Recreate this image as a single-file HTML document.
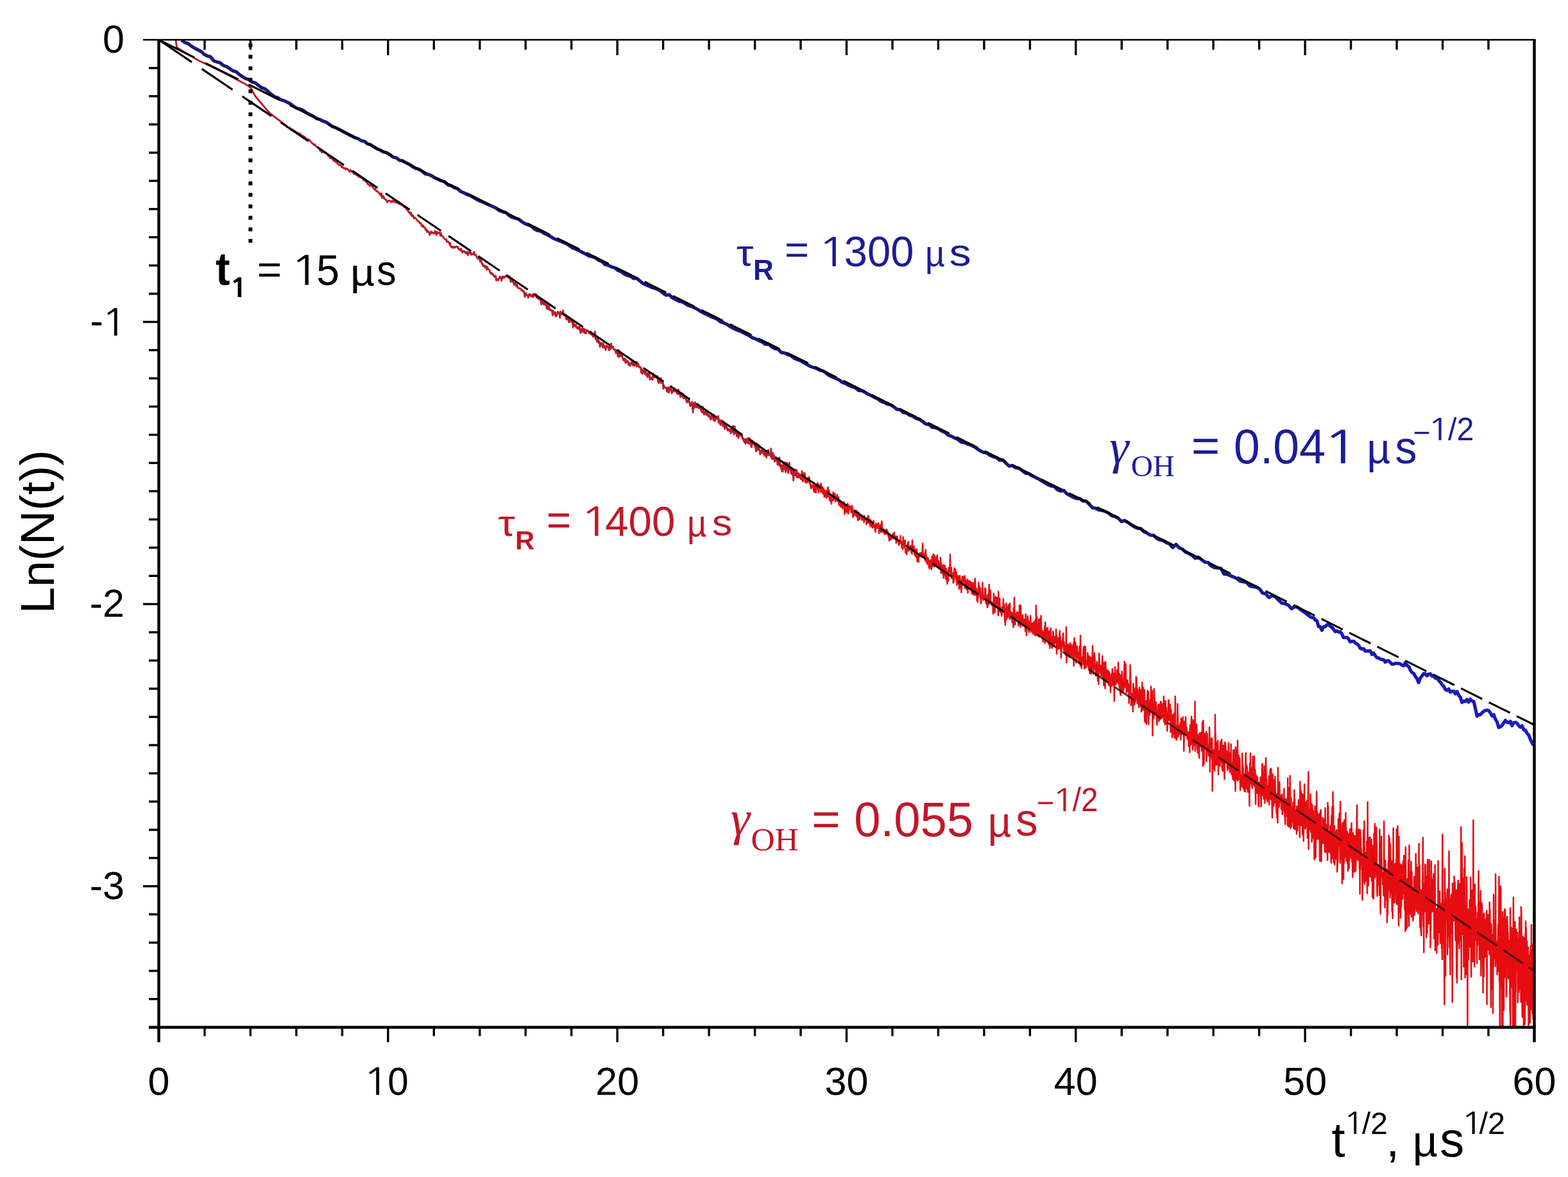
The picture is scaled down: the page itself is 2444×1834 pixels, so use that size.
<!DOCTYPE html>
<html><head><meta charset="utf-8"><title>Ln(N(t)) vs t^1/2</title>
<style>html,body{margin:0;padding:0;background:#fff;overflow:hidden}svg{display:block}</style>
</head><body>
<svg xmlns="http://www.w3.org/2000/svg" width="2444" height="1834" viewBox="0 0 2444 1834">
<rect width="2444" height="1834" fill="#fff"/>
<defs><linearGradient id="bg" gradientUnits="userSpaceOnUse" x1="247" y1="0" x2="2392" y2="0"><stop offset="0" stop-color="#1a1a78"/><stop offset="0.7" stop-color="#15157a"/><stop offset="0.82" stop-color="#1818a8"/><stop offset="1" stop-color="#1c1cc4"/></linearGradient><clipPath id="pc"><rect x="247.5" y="62.0" width="2144.0" height="1538.7"/></clipPath></defs>
<g clip-path="url(#pc)">
<path d="M274.0,62.5 L275.5,74.0 L290.0,83.0 L310.0,94.5 L330.0,104.0 L355.0,116.5 L372.0,125.5 L385.0,132.5 L391.0,137.0 L393.5,142.0 L398.0,150.0 L420.0,176.0 L445.0,195.0 L445.0,194.8 L446.5,196.8 L448.1,198.5 L449.6,198.4 L451.1,198.7 L452.6,200.6 L454.2,202.9 L455.7,201.5 L457.2,204.7 L458.7,203.3 L460.2,205.1 L461.7,206.6 L463.1,206.4 L464.6,207.4 L466.1,208.5 L467.6,207.9 L469.0,210.1 L470.5,211.1 L472.0,211.6 L473.4,213.0 L474.9,213.4 L476.3,215.2 L477.8,216.3 L479.2,216.6 L480.6,218.1 L482.1,217.7 L483.5,220.0 L484.9,221.3 L486.3,222.8 L487.8,224.0 L489.2,225.7 L490.6,225.1 L492.0,227.1 L493.4,228.7 L494.8,229.6 L496.2,230.2 L497.6,231.2 L499.0,234.9 L500.3,233.6 L501.7,237.8 L503.1,236.9 L504.5,236.8 L505.8,237.8 L507.2,238.2 L508.6,239.4 L509.9,240.5 L511.3,242.6 L512.6,243.3 L514.0,245.6 L515.3,246.5 L516.7,246.9 L518.0,246.7 L519.4,250.0 L520.7,250.4 L522.0,251.3 L523.3,252.7 L524.7,252.2 L526.0,255.2 L527.3,255.6 L528.6,257.6 L529.9,257.0 L531.2,257.7 L532.5,260.5 L533.8,259.6 L535.1,261.8 L536.4,262.3 L537.7,261.9 L539.0,264.1 L540.3,262.4 L541.6,263.3 L542.9,265.0 L544.1,265.7 L545.4,268.0 L546.7,264.9 L548.0,267.2 L549.2,267.7 L550.5,268.8 L551.8,271.0 L553.0,270.7 L554.3,271.0 L555.5,272.5 L556.8,271.5 L558.0,274.3 L559.3,275.6 L560.5,275.3 L561.8,276.3 L563.0,275.1 L564.2,277.8 L565.5,276.8 L566.7,281.2 L567.9,280.6 L569.2,281.5 L570.4,283.0 L571.6,283.9 L572.8,286.2 L574.0,287.5 L575.3,287.7 L576.5,289.9 L577.7,288.4 L578.9,288.3 L580.1,291.0 L581.3,291.5 L582.5,293.0 L583.7,295.4 L584.9,294.1 L586.1,296.9 L587.3,298.2 L588.4,298.2 L589.6,299.5 L590.8,301.4 L592.0,301.5 L593.2,304.5 L594.4,301.3 L595.5,308.4 L596.7,305.4 L597.9,306.6 L599.0,309.7 L600.2,310.2 L601.4,311.0 L602.5,312.6 L603.7,315.0 L604.8,312.8 L606.0,312.6 L607.2,313.1 L608.3,312.9 L609.5,314.7 L610.6,314.7 L611.7,312.6 L612.9,314.5 L614.0,312.6 L615.2,313.0 L616.3,315.7 L617.4,314.2 L618.6,315.6 L619.7,316.4 L620.8,314.6 L622.0,317.6 L623.1,316.4 L624.2,317.4 L625.3,319.3 L626.5,319.3 L627.6,320.0 L628.7,320.9 L629.8,322.3 L630.9,323.1 L632.0,324.0 L633.1,324.8 L634.2,327.0 L635.3,327.7 L636.5,329.7 L637.6,331.2 L638.7,330.8 L639.8,333.9 L640.8,331.6 L641.9,336.6 L643.0,335.5 L644.1,336.8 L645.2,340.3 L646.3,338.8 L647.4,340.1 L648.5,340.7 L649.6,342.6 L650.6,344.0 L651.7,345.0 L652.8,345.0 L653.9,347.2 L654.9,348.1 L656.0,347.8 L657.1,351.2 L658.1,353.1 L659.2,351.0 L660.3,354.1 L661.3,353.8 L662.4,355.0 L663.5,358.5 L664.5,357.6 L665.6,361.4 L666.6,359.7 L667.7,360.9 L668.7,362.4 L669.8,366.2 L670.8,362.3 L671.9,360.7 L672.9,363.2 L674.0,362.1 L675.0,362.3 L676.1,364.0 L677.1,363.6 L678.2,360.0 L679.2,363.2 L680.2,366.2 L681.3,361.1 L682.3,363.7 L683.3,363.4 L684.4,362.2 L685.4,362.4 L686.4,367.2 L687.4,363.3 L688.5,367.7 L689.5,367.6 L690.5,369.2 L691.5,370.4 L692.5,371.2 L693.6,373.1 L694.6,372.7 L695.6,373.3 L696.6,376.9 L697.6,376.1 L698.6,376.5 L699.6,378.1 L700.6,380.2 L701.6,378.9 L702.6,383.8 L703.6,385.3 L704.7,385.6 L705.7,384.3 L706.7,386.2 L707.6,384.6 L708.6,384.6 L709.6,385.7 L710.6,384.3 L711.6,384.4 L712.6,384.5 L713.6,384.7 L714.6,388.4 L715.6,387.6 L716.6,388.8 L717.6,390.0 L718.5,387.6 L719.5,389.7 L720.5,393.7 L721.5,391.4 L722.5,391.1 L723.4,391.2 L724.4,393.1 L725.4,392.5 L726.4,395.0 L727.3,393.9 L728.3,392.6 L729.3,397.8 L730.2,393.0 L731.2,394.7 L732.2,393.8 L733.1,392.8 L734.1,397.0 L735.1,394.6 L736.0,396.4 L737.0,396.4 L737.9,395.9 L738.9,392.3 L739.9,397.2 L740.8,396.8 L741.8,396.9 L742.7,400.1 L743.7,401.3 L744.6,403.2 L745.6,403.0 L746.5,402.5 L747.5,404.2 L748.4,407.7 L749.4,403.1 L750.3,407.6 L751.2,411.1 L752.2,411.0 L753.1,414.8 L754.1,413.3 L755.0,414.6 L755.9,416.8 L756.9,414.7 L757.8,414.9 L758.7,420.1 L759.7,416.3 L760.6,418.9 L761.5,419.9 L762.5,420.3 L763.4,422.5 L764.3,426.0 L765.2,425.7 L766.2,425.3 L767.1,427.9 L768.0,426.8 L768.9,428.3 L769.9,430.1 L770.8,431.4 L771.7,431.1 L772.6,429.9 L773.5,436.9 L774.4,434.9 L775.4,436.0 L776.3,436.9 L777.2,434.6 L778.1,434.1 L779.0,431.2 L779.9,431.3 L780.8,432.9 L781.7,437.4 L782.6,433.3 L783.5,430.8 L784.4,433.2 L785.3,431.2 L786.3,432.6 L787.2,431.5 L788.1,430.5 L789.0,429.2 L789.8,430.7 L790.7,429.9 L791.6,430.4 L792.5,432.4 L793.4,433.3 L794.3,430.9 L795.2,435.0 L796.1,439.0 L797.0,439.0 L797.9,437.0 L798.8,438.4 L799.7,435.4 L800.6,441.4 L801.4,443.9 L802.3,442.5 L803.2,440.7 L804.1,443.9 L805.0,446.3 L805.9,443.7 L806.7,447.7 L807.6,448.0 L808.5,449.6 L809.4,449.1 L810.2,449.3 L811.1,449.3 L812.0,450.4 L812.9,452.7 L813.7,452.2 L814.6,452.5 L815.5,454.8 L816.4,453.7 L817.2,455.8 L818.1,462.5 L819.0,457.6 L819.8,456.7 L820.7,459.9 L821.6,459.8 L822.4,460.6 L823.3,463.8 L824.2,461.4 L825.0,458.2 L825.9,459.8 L826.7,458.8 L827.6,461.0 L828.5,462.1 L829.3,460.2 L830.2,459.0 L831.0,462.6 L831.9,457.7 L832.7,459.0 L833.6,461.1 L834.4,459.9 L835.3,458.6 L836.1,462.2 L837.0,464.1 L837.8,461.7 L838.7,465.2 L839.5,464.0 L840.4,466.5 L841.2,465.2 L842.1,465.0 L842.9,469.4 L843.8,474.3 L844.6,467.8 L845.4,469.1 L846.3,471.1 L847.1,474.2 L848.0,469.5 L848.8,474.6 L849.6,472.6 L850.5,474.9 L851.3,474.7 L852.2,480.8 L853.0,475.6 L853.8,478.7 L854.7,481.8 L855.5,477.2 L856.3,480.4 L857.1,483.0 L858.0,483.6 L858.8,482.4 L859.6,483.9 L860.5,484.0 L861.3,491.4 L862.1,483.9 L862.9,485.6 L863.8,487.2 L864.6,489.9 L865.4,486.7 L866.2,493.1 L867.1,488.9 L867.9,492.0 L868.7,487.7 L869.5,485.6 L870.3,488.2 L871.2,487.3 L872.0,489.0 L872.8,495.1 L873.6,485.7 L874.4,489.2 L875.2,487.1 L876.0,489.7 L876.9,487.4 L877.7,483.9 L878.5,491.2 L879.3,490.0 L880.1,490.6 L880.9,492.4 L881.7,490.7 L882.5,497.4 L883.3,492.7 L884.1,497.9 L884.9,494.5 L885.8,497.2 L886.6,502.0 L887.4,501.0 L888.2,497.8 L889.0,500.3 L889.8,498.8 L890.6,501.5 L891.4,501.6 L892.2,498.6 L893.0,510.3 L893.8,502.6 L894.6,504.8 L895.4,507.1 L896.2,507.9 L897.0,508.9 L897.7,506.0 L898.5,509.8 L899.3,510.9 L900.1,511.8 L900.9,509.8 L901.7,512.7 L902.5,511.2 L903.3,509.0 L904.1,512.5 L904.9,519.1 L905.7,514.7 L906.4,516.3 L907.2,512.0 L908.0,513.7 L908.8,517.3 L909.6,511.7 L910.4,513.1 L911.2,519.1 L911.9,513.7 L912.7,513.6 L913.5,519.3 L914.3,514.4 L915.1,515.6 L915.8,515.7 L916.6,515.2 L917.4,516.8 L918.2,519.3 L919.0,516.8 L919.7,519.3 L920.5,518.2 L921.3,521.0 L922.1,518.9 L922.8,521.8 L923.6,521.1 L924.4,524.7 L925.1,524.3 L925.9,523.6 L926.7,522.0 L927.5,516.7 L928.2,528.3 L929.0,524.0 L929.8,524.2 L930.5,532.2 L931.3,532.3 L932.1,525.9 L932.8,534.1 L933.6,534.2 L934.4,532.0 L935.1,540.5 L935.9,538.3 L936.7,538.0 L937.4,534.2 L938.2,534.8 L938.9,536.3 L939.7,541.5 L940.5,535.3 L941.2,538.8 L942.0,539.2 L942.7,542.2 L943.5,540.5 L944.2,545.3 L945.0,538.6 L945.8,540.7 L946.5,539.6 L947.3,539.7 L948.0,541.0 L948.8,544.3 L949.5,545.6 L950.3,539.4 L951.0,537.5 L951.8,543.8 L952.5,535.4 L953.3,541.4 L954.0,540.8 L954.8,541.6 L955.5,540.0 L956.3,543.5 L957.0,544.6 L957.8,544.2 L958.5,545.8 L959.3,545.3 L960.0,550.2 L960.8,547.2 L961.5,546.7 L962.2,546.3 L963.0,555.1 L963.7,555.7 L964.5,546.9 L965.2,546.0 L966.0,555.7 L966.7,554.0 L967.4,553.4 L968.2,551.0 L968.9,554.8 L969.6,553.7 L970.4,557.5 L971.1,559.8 L971.9,561.5 L972.6,560.3 L973.3,558.9 L974.1,559.0 L974.8,565.4 L975.5,560.6 L976.3,563.5 L977.0,564.7 L977.7,563.8 L978.5,562.6 L979.2,564.6 L979.9,568.8 L980.7,565.6 L981.4,567.9 L982.1,570.1 L982.8,568.7 L983.6,565.9 L984.3,565.3 L985.0,561.3 L985.7,562.9 L986.5,569.4 L987.2,563.3 L987.9,565.2 L988.6,569.7 L989.4,567.5 L990.1,563.9 L990.8,565.8 L991.5,568.2 L992.3,571.1 L993.0,564.2 L993.7,570.0 L994.4,568.0 L995.1,567.4 L995.9,572.1 L996.6,571.7 L997.3,571.6 L998.0,573.2 L998.7,572.2 L999.4,580.7 L1000.2,574.9 L1000.9,578.9 L1001.6,582.6 L1002.3,576.6 L1003.0,579.9 L1003.7,578.0 L1004.5,578.0 L1005.2,582.8 L1005.9,575.4 L1006.6,579.5 L1007.3,582.5 L1008.0,585.5 L1008.7,583.1 L1009.4,587.8 L1010.1,581.4 L1010.8,585.5 L1011.6,584.0 L1012.3,583.0 L1013.0,591.3 L1013.7,588.6 L1014.4,588.7 L1015.1,590.4 L1015.8,588.9 L1016.5,587.6 L1017.2,591.7 L1017.9,585.6 L1018.6,582.3 L1019.3,585.6 L1020.0,588.1 L1020.7,585.0 L1021.4,587.7 L1022.1,586.9 L1022.8,587.0 L1023.5,589.1 L1024.2,585.9 L1024.9,587.4 L1025.6,594.4 L1026.3,591.7 L1027.0,596.9 L1027.7,593.7 L1028.4,593.4 L1029.1,592.9 L1029.8,589.2 L1030.5,597.1 L1031.2,593.3 L1031.9,594.2 L1032.6,595.2 L1033.3,596.1 L1034.0,605.7 L1034.7,600.2 L1035.4,603.9 L1036.1,603.9 L1036.7,603.6 L1037.4,604.5 L1038.1,605.1 L1038.8,604.0 L1039.5,610.4 L1040.2,606.3 L1040.9,604.6 L1041.6,603.8 L1042.3,611.9 L1043.0,608.1 L1043.6,604.2 L1044.3,607.4 L1045.0,608.0 L1045.7,605.6 L1046.4,608.0 L1047.1,612.7 L1047.8,610.5 L1048.4,608.8 L1049.1,607.9 L1049.8,608.8 L1050.5,610.1 L1051.2,607.5 L1051.9,609.2 L1052.5,608.0 L1053.2,607.6 L1053.9,610.6 L1054.6,610.5 L1055.3,613.3 L1055.9,610.3 L1056.6,614.2 L1057.3,607.0 L1058.0,612.9 L1058.7,610.4 L1059.3,614.7 L1060.0,611.1 L1060.7,618.5 L1061.4,615.3 L1062.0,617.0 L1062.7,612.8 L1063.4,617.1 L1064.1,613.5 L1064.7,619.7 L1065.4,617.5 L1066.1,620.8 L1066.8,619.9 L1067.4,619.7 L1068.1,620.4 L1068.8,619.1 L1069.4,623.4 L1070.1,624.5 L1070.8,627.0 L1071.5,626.6 L1072.1,623.8 L1072.8,622.9 L1073.5,624.3 L1074.1,625.3 L1074.8,627.4 L1075.5,632.0 L1076.1,632.5 L1076.8,629.0 L1077.5,629.7 L1078.1,631.7 L1078.8,626.1 L1079.5,636.1 L1080.1,642.5 L1080.8,628.7 L1081.5,628.1 L1082.1,635.6 L1082.8,629.5 L1083.5,626.8 L1084.1,629.5 L1084.8,631.2 L1085.4,634.9 L1086.1,630.0 L1086.8,632.6 L1087.4,629.2 L1088.1,634.8 L1088.7,635.7 L1089.4,635.7 L1090.1,633.4 L1090.7,634.4 L1091.4,634.5 L1092.0,637.5 L1092.7,638.0 L1093.3,640.9 L1094.0,636.1 L1094.7,642.8 L1095.3,633.8 L1096.0,641.4 L1096.6,642.1 L1097.3,645.9 L1097.9,645.8 L1098.6,644.3 L1099.2,640.4 L1099.9,644.0 L1100.6,644.7 L1101.2,646.4 L1101.9,639.4 L1102.5,646.0 L1103.2,647.0 L1103.8,646.4 L1104.5,649.2 L1105.1,646.4 L1105.8,650.1 L1106.4,649.3 L1107.1,648.5 L1107.7,653.9 L1108.4,652.1 L1109.0,652.3 L1109.7,647.0 L1110.3,647.8 L1110.9,648.8 L1111.6,648.8 L1112.2,655.1 L1112.9,646.3 L1113.5,654.0 L1114.2,656.0 L1114.8,649.5 L1115.5,653.8 L1116.1,651.0 L1116.8,650.4 L1117.4,649.3 L1118.0,650.8 L1118.7,652.5 L1119.3,648.3 L1120.0,658.3 L1120.6,653.3 L1121.3,654.3 L1121.9,657.2 L1122.5,660.6 L1123.2,662.0 L1123.8,655.1 L1124.5,658.4 L1125.1,659.6 L1125.7,655.2 L1126.4,662.6 L1127.0,664.1 L1127.6,658.6 L1128.3,662.6 L1128.9,661.0 L1129.6,668.1 L1130.2,666.0 L1130.8,662.2 L1131.5,667.0 L1132.1,665.7 L1132.7,664.5 L1133.4,668.1 L1134.0,670.3 L1134.6,670.8 L1135.3,668.4 L1135.9,670.6 L1136.5,668.9 L1137.2,671.4 L1137.8,671.9 L1138.4,671.2 L1139.1,675.1 L1139.7,668.1 L1140.3,673.8 L1141.0,669.5 L1141.6,665.0 L1142.2,663.9 L1142.8,665.8 L1143.5,673.4 L1144.1,677.0 L1144.7,664.3 L1145.4,665.5 L1146.0,672.6 L1146.6,674.8 L1147.2,669.9 L1147.9,672.9 L1148.5,679.7 L1149.1,673.3 L1149.8,677.0 L1150.4,672.7 L1151.0,682.6 L1151.6,677.4 L1152.3,674.2 L1152.9,677.8 L1153.5,676.7 L1154.1,678.4 L1154.7,678.7 L1155.4,679.8 L1156.0,680.2 L1156.6,678.1 L1157.2,682.1 L1157.9,684.2 L1158.5,683.2 L1159.1,686.7 L1159.7,684.1 L1160.3,689.3 L1161.0,684.6 L1161.6,686.4 L1162.2,691.2 L1162.8,687.3 L1163.4,685.1 L1164.1,683.4 L1164.7,687.1 L1165.3,689.0 L1165.9,690.5 L1166.5,686.1 L1167.1,682.3 L1167.8,684.0 L1168.4,691.7 L1169.0,683.8 L1169.6,688.3 L1170.2,691.0 L1170.8,695.4 L1171.5,696.6 L1172.1,686.1 L1172.7,690.1 L1173.3,687.5 L1173.9,691.0 L1174.5,692.3 L1175.1,689.1 L1175.7,692.5 L1176.4,690.9 L1177.0,697.1 L1177.6,692.8 L1178.2,701.8 L1178.8,703.5 L1179.4,690.9 L1180.0,695.9 L1180.6,698.4 L1181.2,700.9 L1181.9,699.6 L1182.5,692.9 L1183.1,697.5 L1183.7,701.3 L1184.3,702.3 L1184.9,707.9 L1185.5,702.7 L1186.1,702.0 L1186.7,705.0 L1187.3,702.0 L1187.9,705.4 L1188.5,700.5 L1189.1,705.1 L1189.8,705.5 L1190.4,707.0 L1191.0,703.9 L1191.6,710.0 L1192.2,708.3 L1192.8,706.5 L1193.4,702.9 L1194.0,707.9 L1194.6,713.0 L1195.2,703.4 L1195.8,704.8 L1196.4,703.1 L1197.0,709.0 L1197.6,701.3 L1198.2,706.9 L1198.8,707.9 L1199.4,709.2 L1200.0,707.2 L1200.6,707.0 L1201.2,711.4 L1201.8,699.0 L1202.4,707.9 L1203.0,714.8 L1203.6,712.2 L1204.2,715.1 L1204.8,706.0 L1205.4,710.2 L1206.0,712.9 L1206.6,709.6 L1207.2,719.1 L1207.8,712.9 L1208.4,713.6 L1209.0,717.8 L1209.6,717.5 L1210.2,714.0 L1210.8,714.2 L1211.4,717.4 L1211.9,724.1 L1212.5,714.7 L1213.1,719.6 L1213.7,724.0 L1214.3,719.0 L1214.9,713.0 L1215.5,725.7 L1216.1,726.6 L1216.7,727.5 L1217.3,724.0 L1217.9,731.4 L1218.5,725.3 L1219.1,734.9 L1219.7,728.8 L1220.2,734.6 L1220.8,723.4 L1221.4,729.2 L1222.0,728.1 L1222.6,730.8 L1223.2,730.0 L1223.8,720.5 L1224.4,735.8 L1225.0,724.2 L1225.5,728.0 L1226.1,725.9 L1226.7,721.2 L1227.3,733.2 L1227.9,726.5 L1228.5,737.1 L1229.1,730.5 L1229.7,730.0 L1230.2,721.2 L1230.8,729.2 L1231.4,730.7 L1232.0,732.0 L1232.6,734.4 L1233.2,737.7 L1233.8,731.2 L1234.3,731.9 L1234.9,739.7 L1235.5,732.8 L1236.1,736.8 L1236.7,748.6 L1237.3,738.6 L1237.8,734.8 L1238.4,732.7 L1239.0,736.4 L1239.6,740.8 L1240.2,737.4 L1240.8,731.7 L1241.3,741.9 L1241.9,733.3 L1242.5,743.8 L1243.1,740.4 L1243.7,737.4 L1244.2,744.1 L1244.8,737.5 L1245.4,743.6 L1246.0,741.4 L1246.6,744.3 L1247.1,739.8 L1247.7,742.9 L1248.3,746.7 L1248.9,742.7 L1249.4,746.6 L1250.0,734.4 L1250.6,738.9 L1251.2,750.0 L1251.7,739.9 L1252.3,743.1 L1252.9,744.4 L1253.5,744.0 L1254.0,737.0 L1254.6,746.3 L1255.2,751.3 L1255.8,750.9 L1256.3,745.7 L1256.9,749.3 L1257.5,752.1 L1258.1,747.9 L1258.6,750.4 L1259.2,750.8 L1259.8,748.8 L1260.4,744.6 L1260.9,743.6 L1261.5,747.2" fill="none" stroke="#bc1c2a" stroke-width="2.9" stroke-linejoin="round"/>
<path d="M1250.0,734.4 L1250.6,738.9 L1251.2,750.0 L1251.7,739.9 L1252.3,743.1 L1252.9,744.4 L1253.5,744.0 L1254.0,737.0 L1254.6,746.3 L1255.2,751.3 L1255.8,750.9 L1256.3,745.7 L1256.9,749.3 L1257.5,752.1 L1258.1,747.9 L1258.6,750.4 L1259.2,750.8 L1259.8,748.8 L1260.4,744.6 L1260.9,743.6 L1261.5,747.2 L1262.1,753.6 L1262.6,752.4 L1263.2,753.9 L1263.8,760.8 L1264.4,760.8 L1264.9,759.2 L1265.5,756.5 L1266.1,755.8 L1266.6,756.8 L1267.2,756.8 L1267.8,760.8 L1268.4,765.7 L1268.9,752.1 L1269.5,766.8 L1270.1,760.6 L1270.6,755.3 L1271.2,756.5 L1271.8,767.8 L1272.3,758.9 L1272.9,762.2 L1273.5,760.9 L1274.0,752.6 L1274.6,752.6 L1275.2,759.0 L1275.7,767.8 L1276.3,757.8 L1276.9,755.6 L1277.4,756.6 L1278.0,759.6 L1278.6,759.6 L1279.1,766.7 L1279.7,753.2 L1280.2,766.5 L1280.8,757.8 L1281.4,759.5 L1281.9,759.0 L1282.5,769.3 L1283.1,764.4 L1283.6,760.8 L1284.2,764.7 L1284.7,774.4 L1285.3,772.3 L1285.9,764.4 L1286.4,765.4 L1287.0,766.9 L1287.6,774.6 L1288.1,775.7 L1288.7,764.0 L1289.2,769.7 L1289.8,774.4 L1290.4,759.3 L1290.9,772.0 L1291.5,772.7 L1292.0,763.8 L1292.6,773.1 L1293.1,779.5 L1293.7,778.7 L1294.3,781.1 L1294.8,773.1 L1295.4,772.5 L1295.9,785.3 L1296.5,774.6 L1297.1,774.4 L1297.6,771.8 L1298.2,779.6 L1298.7,766.9 L1299.3,778.9 L1299.8,774.7 L1300.4,777.5 L1300.9,768.8 L1301.5,770.9 L1302.1,781.5 L1302.6,777.8 L1303.2,777.3 L1303.7,779.1 L1304.3,776.3 L1304.8,770.8 L1305.4,781.3 L1305.9,775.7 L1306.5,777.2 L1307.0,774.4 L1307.6,787.1 L1308.1,778.8 L1308.7,781.8 L1309.2,787.5 L1309.8,781.7 L1310.3,789.6 L1310.9,781.4 L1311.4,782.1 L1312.0,783.7 L1312.5,785.5 L1313.1,792.6 L1313.6,783.9 L1314.2,788.9 L1314.7,787.3 L1315.3,782.3 L1315.8,790.0 L1316.4,801.2 L1316.9,793.0 L1317.5,785.9 L1318.0,790.1 L1318.6,794.2 L1319.1,798.3 L1319.7,797.1 L1320.2,795.9 L1320.8,790.1 L1321.3,784.6 L1321.9,800.8 L1322.4,795.7 L1323.0,787.8 L1323.5,794.7 L1324.1,790.8 L1324.6,789.5 L1325.1,791.8 L1325.7,789.2 L1326.2,788.6 L1326.8,798.4 L1327.3,793.3 L1327.9,788.2 L1328.4,791.0 L1329.0,791.7 L1329.5,806.0 L1330.0,804.6 L1330.6,799.2 L1331.1,798.1 L1331.7,802.5 L1332.2,795.3 L1332.8,798.1 L1333.3,801.0 L1333.8,795.7 L1334.4,804.0 L1334.9,795.6 L1335.5,801.0 L1336.0,805.9 L1336.5,804.0 L1337.1,810.8 L1337.6,806.6 L1338.2,798.1 L1338.7,809.9 L1339.2,804.4 L1339.8,806.8 L1340.3,808.7 L1340.9,804.2 L1341.4,804.9 L1341.9,802.6 L1342.5,804.0 L1343.0,805.9 L1343.6,810.3 L1344.1,807.0 L1344.6,806.7 L1345.2,805.1 L1345.7,810.3 L1346.2,808.2 L1346.8,814.3 L1347.3,804.1 L1347.9,808.7 L1348.4,807.0 L1348.9,808.1 L1349.5,810.2 L1350.0,809.3 L1350.5,817.0 L1351.1,809.9 L1351.6,813.7 L1352.1,806.8 L1352.7,815.0 L1353.2,803.4 L1353.7,804.2 L1354.3,811.0 L1354.8,812.7 L1355.3,815.5 L1355.9,809.5 L1356.4,819.9 L1356.9,817.4 L1357.5,810.7 L1358.0,815.0 L1358.5,820.8 L1359.1,814.3 L1359.6,813.0 L1360.1,822.5 L1360.7,819.4 L1361.2,815.9 L1361.7,811.6 L1362.3,820.8 L1362.8,821.1 L1363.3,818.5 L1363.9,825.7 L1364.4,828.9 L1364.9,822.5 L1365.4,815.6 L1366.0,823.2 L1366.5,816.3 L1367.0,821.1 L1367.6,820.8 L1368.1,822.7 L1368.6,819.0 L1369.1,815.1 L1369.7,819.9 L1370.2,831.1 L1370.7,822.2 L1371.3,818.9 L1371.8,822.1 L1372.3,827.8 L1372.8,817.4 L1373.4,829.6 L1373.9,816.2 L1374.4,812.2 L1374.9,820.4 L1375.5,828.4 L1376.0,828.7 L1376.5,824.7 L1377.0,827.9 L1377.6,824.5 L1378.1,826.5 L1378.6,832.8 L1379.1,826.4 L1379.7,832.6 L1380.2,828.6 L1380.7,832.1 L1381.2,824.7 L1381.8,828.9 L1382.3,825.3 L1382.8,829.2 L1383.3,828.0 L1383.9,829.3 L1384.4,835.4 L1384.9,834.1 L1385.4,836.1 L1385.9,842.4 L1386.5,840.3 L1387.0,835.4 L1387.5,834.6 L1388.0,841.2 L1388.6,835.9 L1389.1,835.7 L1389.6,839.3 L1390.1,838.9 L1390.6,834.9 L1391.2,834.8 L1391.7,831.9 L1392.2,839.1 L1392.7,838.6 L1393.2,838.4 L1393.8,829.5 L1394.3,839.3 L1394.8,835.3 L1395.3,836.5 L1395.8,839.6 L1396.3,836.1 L1396.9,846.3 L1397.4,835.9 L1397.9,840.4 L1398.4,835.6 L1398.9,842.9 L1399.5,842.5 L1400.0,841.6 L1400.5,843.9 L1401.0,849.6 L1401.5,842.3 L1402.0,847.7 L1402.5,842.4 L1403.1,843.9 L1403.6,834.8 L1404.1,846.1 L1404.6,844.5 L1405.1,847.2 L1405.6,853.5 L1406.2,852.7 L1406.7,844.0 L1407.2,856.3 L1407.7,836.7 L1408.2,845.3 L1408.7,843.3 L1409.2,847.9 L1409.8,848.5 L1410.3,853.6 L1410.8,841.7 L1411.3,860.6 L1411.8,861.6 L1412.3,857.9 L1412.8,860.2 L1413.3,863.9 L1413.9,855.2 L1414.4,848.9 L1414.9,849.2 L1415.4,846.1 L1415.9,844.1 L1416.4,858.5 L1416.9,856.5 L1417.4,856.2 L1417.9,854.2 L1418.5,856.0 L1419.0,851.2 L1419.5,850.2 L1420.0,857.3 L1420.5,860.9 L1421.0,854.0 L1421.5,862.9 L1422.0,841.7 L1422.5,859.0 L1423.0,854.0 L1423.5,851.7 L1424.1,853.4 L1424.6,850.7 L1425.1,863.8 L1425.6,863.0 L1426.1,855.8 L1426.6,866.1 L1427.1,863.4 L1427.6,866.1 L1428.1,868.3 L1428.6,860.9 L1429.1,855.7 L1429.6,874.7 L1430.1,865.4 L1430.6,863.4 L1431.2,870.4 L1431.7,875.8 L1432.2,863.5 L1432.7,867.2 L1433.2,867.4 L1433.7,862.9 L1434.2,861.5 L1434.7,867.1 L1435.2,865.8 L1435.7,863.2 L1436.2,861.2 L1436.7,865.4 L1437.2,867.6 L1437.7,859.1 L1438.2,847.1 L1438.7,861.0 L1439.2,865.8 L1439.7,862.6 L1440.2,863.2 L1440.7,867.7 L1441.2,867.4 L1441.7,862.7 L1442.2,874.0 L1442.7,856.5 L1443.2,865.4 L1443.7,865.1 L1444.3,876.2 L1444.8,875.3 L1445.3,878.9 L1445.8,869.8 L1446.3,868.9 L1446.8,871.4 L1447.3,874.9 L1447.8,884.3 L1448.3,883.7 L1448.8,886.0 L1449.3,878.5 L1449.8,872.4 L1450.3,881.6 L1450.8,880.3 L1451.3,874.2 L1451.8,887.4 L1452.3,879.8 L1452.7,866.9 L1453.2,883.0 L1453.7,880.5 L1454.2,867.6 L1454.7,863.4 L1455.2,882.1 L1455.7,866.6 L1456.2,882.9 L1456.7,865.2 L1457.2,879.7 L1457.7,881.4 L1458.2,875.2 L1458.7,878.5 L1459.2,868.8 L1459.7,874.3 L1460.2,882.1 L1460.7,864.9 L1461.2,883.8 L1461.7,881.4 L1462.2,884.0 L1462.7,874.0 L1463.2,879.7 L1463.7,886.5 L1464.2,877.9 L1464.7,883.5 L1465.2,877.6 L1465.7,880.7 L1466.1,868.8 L1466.6,892.6 L1467.1,877.9 L1467.6,889.9 L1468.1,893.5 L1468.6,883.4 L1469.1,890.9 L1469.6,882.4 L1470.1,880.2 L1470.6,900.6 L1471.1,894.1 L1471.6,896.1 L1472.1,894.5 L1472.6,880.9 L1473.1,890.0 L1473.5,895.5 L1474.0,902.0 L1474.5,886.4 L1475.0,886.1 L1475.5,904.0 L1476.0,900.8 L1476.5,910.0 L1477.0,894.5 L1477.5,890.1 L1478.0,905.2 L1478.5,890.4 L1478.9,884.8 L1479.4,893.0 L1479.9,888.7 L1480.4,891.6 L1480.9,863.9 L1481.4,884.6 L1481.9,890.5 L1482.4,894.5 L1482.9,884.5 L1483.3,901.0 L1483.8,896.8 L1484.3,900.9 L1484.8,900.4 L1485.3,892.7 L1485.8,908.3 L1486.3,900.8 L1486.8,906.7 L1487.2,890.6 L1487.7,885.3 L1488.2,898.9 L1488.7,896.2 L1489.2,887.0 L1489.7,895.3 L1490.2,902.8 L1490.7,892.0 L1491.1,902.0 L1491.6,911.6 L1492.1,897.3 L1492.6,897.3 L1493.1,903.9 L1493.6,903.9 L1494.1,910.2 L1494.5,897.5 L1495.0,917.6 L1495.5,916.6 L1496.0,896.9 L1496.5,903.7 L1497.0,903.9 L1497.4,912.7 L1497.9,910.9 L1498.4,923.3 L1498.9,913.2 L1499.4,908.2 L1499.9,898.2 L1500.3,911.3 L1500.8,898.5 L1501.3,900.4 L1501.8,904.0 L1502.3,899.0 L1502.8,907.0 L1503.2,903.4 L1503.7,897.2 L1504.2,916.5 L1504.7,902.2 L1505.2,906.1 L1505.7,915.3 L1506.1,914.1 L1506.6,918.7 L1507.1,909.8 L1507.6,905.2 L1508.1,902.8 L1508.5,923.7 L1509.0,915.7 L1509.5,912.5 L1510.0,905.3 L1510.5,910.9 L1510.9,911.5 L1511.4,906.9 L1511.9,905.8 L1512.4,917.1 L1512.9,912.2 L1513.3,908.0 L1513.8,907.4 L1514.3,911.9 L1514.8,925.0 L1515.3,925.4 L1515.7,908.6 L1516.2,910.6 L1516.7,914.6 L1517.2,916.9 L1517.6,926.3 L1518.1,907.9 L1518.6,927.3 L1519.1,919.2 L1519.6,903.7 L1520.0,901.5 L1520.5,926.1 L1521.0,927.1 L1521.5,916.8 L1521.9,916.9 L1522.4,920.5 L1522.9,936.1 L1523.4,920.6 L1523.8,938.2 L1524.3,931.8 L1524.8,926.9 L1525.3,907.6 L1525.7,922.2 L1526.2,912.7 L1526.7,922.5 L1527.2,922.5 L1527.6,930.5 L1528.1,916.0 L1528.6,926.1 L1529.1,940.5 L1529.5,932.4 L1530.0,928.7 L1530.5,931.4 L1531.0,929.4 L1531.4,908.0 L1531.9,927.3 L1532.4,934.9 L1532.9,931.2 L1533.3,934.8 L1533.8,929.7 L1534.3,928.3 L1534.7,928.8 L1535.2,916.4 L1535.7,928.6 L1536.2,917.8 L1536.6,939.7 L1537.1,928.0 L1537.6,939.0 L1538.1,942.3 L1538.5,938.3 L1539.0,946.4 L1539.5,945.2 L1539.9,926.2 L1540.4,937.7 L1540.9,941.6 L1541.3,929.6 L1541.8,910.8 L1542.3,937.9 L1542.8,938.1 L1543.2,934.9 L1543.7,919.5 L1544.2,939.3 L1544.6,940.6 L1545.1,937.6 L1545.6,937.9 L1546.0,942.9 L1546.5,943.5 L1547.0,942.9 L1547.5,943.1 L1547.9,956.6 L1548.4,947.6 L1548.9,924.7 L1549.3,949.0 L1549.8,946.2 L1550.3,943.1 L1550.7,954.4 L1551.2,931.3 L1551.7,929.7 L1552.1,938.1 L1552.6,938.3 L1553.1,940.5 L1553.5,942.1 L1554.0,931.2 L1554.5,932.9 L1554.9,931.7 L1555.4,934.2 L1555.9,959.3 L1556.3,921.8 L1556.8,946.4 L1557.3,948.2 L1557.7,952.8 L1558.2,932.5 L1558.7,951.1 L1559.1,946.5 L1559.6,953.9 L1560.1,952.1 L1560.5,951.5 L1561.0,958.5 L1561.5,959.8 L1561.9,945.8 L1562.4,947.5 L1562.8,945.9 L1563.3,949.5 L1563.8,933.3 L1564.2,949.9 L1564.7,948.8 L1565.2,942.1 L1565.6,948.5 L1566.1,969.0 L1566.6,950.4 L1567.0,974.0 L1567.5,957.9 L1567.9,958.2 L1568.4,939.9 L1568.9,965.1 L1569.3,954.8 L1569.8,946.3 L1570.3,957.9 L1570.7,961.9 L1571.2,947.8 L1571.6,942.4 L1572.1,950.8 L1572.6,957.7 L1573.0,944.8 L1573.5,963.4 L1574.0,940.3 L1574.4,964.8 L1574.9,952.5 L1575.3,956.5 L1575.8,953.8 L1576.3,954.7 L1576.7,957.8 L1577.2,955.1 L1577.6,970.1 L1578.1,961.5 L1578.6,962.7 L1579.0,962.5 L1579.5,977.6 L1579.9,947.4 L1580.4,967.3 L1580.9,930.9 L1581.3,950.4 L1581.8,960.3 L1582.2,973.4 L1582.7,960.1 L1583.1,962.3 L1583.6,957.3 L1584.1,963.6 L1584.5,957.8 L1585.0,953.4 L1585.4,963.8 L1585.9,960.9 L1586.4,956.1 L1586.8,954.6 L1587.3,973.0 L1587.7,974.8 L1588.2,954.0 L1588.6,965.9 L1589.1,942.7 L1589.6,968.3 L1590.0,966.3 L1590.5,977.3 L1590.9,943.8 L1591.4,957.9 L1591.8,965.1 L1592.3,972.2 L1592.7,968.5 L1593.2,968.4 L1593.7,974.9 L1594.1,958.3 L1594.6,967.8 L1595.0,968.4 L1595.5,974.4 L1595.9,966.0 L1596.4,972.7 L1596.8,965.3 L1597.3,974.1 L1597.8,966.5 L1598.2,983.6 L1598.7,956.9 L1599.1,973.6 L1599.6,973.1 L1600.0,990.2 L1600.5,970.8 L1600.9,972.1 L1601.4,975.6 L1601.8,959.8 L1602.3,964.7 L1602.7,968.4 L1603.2,967.8 L1603.6,984.7 L1604.1,985.1 L1604.6,978.0 L1605.0,974.7 L1605.5,973.5 L1605.9,970.3 L1606.4,959.5 L1606.8,978.9 L1607.3,984.6 L1607.7,979.9 L1608.2,978.6 L1608.6,975.8 L1609.1,971.2 L1609.5,984.3 L1610.0,987.6 L1610.4,974.5 L1610.9,969.5 L1611.3,984.3 L1611.8,986.6 L1612.2,974.9 L1612.7,989.8 L1613.1,970.1 L1613.6,966.2 L1614.0,990.2 L1614.5,982.4 L1614.9,943.5 L1615.4,986.8 L1615.8,989.4 L1616.3,961.4 L1616.7,978.5 L1617.2,981.9 L1617.6,989.7 L1618.1,991.3 L1618.5,988.8 L1619.0,974.3 L1619.4,965.6 L1619.9,964.6 L1620.3,991.9 L1620.8,980.7 L1621.2,989.1 L1621.7,982.0 L1622.1,966.7 L1622.6,959.5 L1623.0,989.7 L1623.4,979.8 L1623.9,989.7 L1624.3,985.7 L1624.8,994.6 L1625.2,983.3 L1625.7,1000.0 L1626.1,987.8 L1626.6,994.8 L1627.0,985.3 L1627.5,982.9 L1627.9,990.2 L1628.4,975.5 L1628.8,1002.2 L1629.3,969.4 L1629.7,980.0 L1630.1,987.1 L1630.6,995.1 L1631.0,983.4 L1631.5,991.6 L1631.9,979.3 L1632.4,999.5 L1632.8,978.2 L1633.3,987.4 L1633.7,988.0 L1634.1,983.5 L1634.6,1003.9 L1635.0,996.1 L1635.5,983.5 L1635.9,984.7 L1636.4,1009.9 L1636.8,1003.5 L1637.3,996.8 L1637.7,978.7 L1638.1,1006.0 L1638.6,998.9 L1639.0,995.2 L1639.5,992.8 L1639.9,1009.9 L1640.4,995.6 L1640.8,1001.1 L1641.2,983.7 L1641.7,986.3 L1642.1,1000.6 L1642.6,1007.5 L1643.0,992.1 L1643.5,1002.4 L1643.9,1002.5 L1644.3,992.2 L1644.8,995.4 L1645.2,997.5 L1645.7,1001.3 L1646.1,980.6 L1646.5,996.2 L1647.0,1018.7 L1647.4,991.5 L1647.9,1005.2 L1648.3,997.6 L1648.8,1003.0 L1649.2,1011.6 L1649.6,994.5 L1650.1,1009.5 L1650.5,999.1 L1651.0,1010.3 L1651.4,996.3 L1651.8,982.9 L1652.3,1007.4 L1652.7,992.3 L1653.2,1014.0 L1653.6,998.7 L1654.0,1024.9 L1654.5,1005.4 L1654.9,1010.1 L1655.3,1001.1 L1655.8,998.5 L1656.2,999.6 L1656.7,994.1 L1657.1,986.8 L1657.5,1003.2 L1658.0,1012.6 L1658.4,1000.0 L1658.9,1005.3 L1659.3,1012.5 L1659.7,1014.8 L1660.2,1008.4 L1660.6,1016.5 L1661.0,1021.0 L1661.5,1008.0 L1661.9,976.9 L1662.4,1032.5 L1662.8,1006.6 L1663.2,1013.9 L1663.7,1009.8 L1664.1,1004.5 L1664.5,1022.1 L1665.0,1013.7 L1665.4,1018.2 L1665.8,1004.5 L1666.3,1007.8 L1666.7,1024.3 L1667.2,1023.3 L1667.6,1023.7 L1668.0,1001.7 L1668.5,1015.9 L1668.9,1011.5 L1669.3,1005.2 L1669.8,1021.9 L1670.2,1005.0 L1670.6,1019.8 L1671.1,1006.8 L1671.5,1019.0 L1671.9,1017.3 L1672.4,1023.4 L1672.8,1012.8 L1673.2,1002.9 L1673.7,1037.5 L1674.1,1006.2 L1674.5,994.0 L1675.0,1023.2 L1675.4,1013.6 L1675.9,1019.3 L1676.3,1000.9 L1676.7,1014.8 L1677.2,1032.8 L1677.6,1013.1 L1678.0,1030.1 L1678.5,1022.3 L1678.9,1006.9 L1679.3,1011.4 L1679.7,1021.8 L1680.2,1017.0 L1680.6,1024.3 L1681.0,1022.2 L1681.5,1033.2 L1681.9,1022.1 L1682.3,1025.8 L1682.8,1006.7 L1683.2,1027.8 L1683.6,1037.3 L1684.1,990.3 L1684.5,1025.8 L1684.9,1037.7 L1685.4,1032.6 L1685.8,1041.5 L1686.2,1026.7 L1686.7,1025.7 L1687.1,1024.2 L1687.5,1027.6 L1687.9,1032.5 L1688.4,1015.3 L1688.8,1008.5 L1689.2,1035.5 L1689.7,1030.6 L1690.1,1041.9 L1690.5,1007.1 L1691.0,1033.9 L1691.4,1030.2 L1691.8,1008.1 L1692.3,1040.5 L1692.7,1035.2 L1693.1,1028.7 L1693.5,1038.4 L1694.0,1032.4 L1694.4,1031.1 L1694.8,1035.3 L1695.3,1017.3 L1695.7,1029.0 L1696.1,1027.1 L1696.5,1038.6 L1697.0,1042.4 L1697.4,1022.2 L1697.8,1043.6 L1698.3,1027.9 L1698.7,1049.2 L1699.1,1035.2 L1699.5,1024.3 L1700.0,1024.2 L1700.4,1047.7 L1700.8,1050.0 L1701.2,1028.6 L1701.7,1043.6 L1702.1,1037.3 L1702.5,1030.6 L1703.0,1006.2 L1703.4,1040.9 L1703.8,1032.7 L1704.2,1050.4 L1704.7,1026.8 L1705.1,1026.6 L1705.5,1034.8 L1705.9,1017.4 L1706.4,1026.0 L1706.8,1042.4 L1707.2,1039.1 L1707.6,1043.5 L1708.1,1053.3 L1708.5,1042.0 L1708.9,1038.4 L1709.3,1034.5 L1709.8,1031.1 L1710.2,1038.7 L1710.6,1037.2 L1711.0,1060.8 L1711.5,1050.1 L1711.9,1048.9 L1712.3,1066.2 L1712.7,1038.9 L1713.2,1018.0 L1713.6,1037.1 L1714.0,1038.6 L1714.4,1040.1 L1714.9,1036.4 L1715.3,1048.8 L1715.7,1041.3 L1716.1,1046.5 L1716.6,1053.4 L1717.0,1037.5 L1717.4,1042.5 L1717.8,1037.0 L1718.3,1022.1 L1718.7,1042.9 L1719.1,1055.4 L1719.5,1057.4 L1719.9,1049.5 L1720.4,1068.2 L1720.8,1032.6 L1721.2,1047.6 L1721.6,1052.3 L1722.1,1038.9 L1722.5,1072.8 L1722.9,1055.6 L1723.3,1031.2 L1723.7,1053.2 L1724.2,1061.9 L1724.6,1043.6 L1725.0,1053.1 L1725.4,1059.7 L1725.9,1059.5 L1726.3,1051.9 L1726.7,1044.4 L1727.1,1057.6 L1727.5,1064.6 L1728.0,1066.8 L1728.4,1047.1 L1728.8,1068.1 L1729.2,1047.0 L1729.6,1059.5 L1730.1,1060.9 L1730.5,1055.2 L1730.9,1078.6 L1731.3,1060.0 L1731.7,1061.1 L1732.2,1050.5 L1732.6,1053.0 L1733.0,1068.9 L1733.4,1053.1 L1733.8,1042.2 L1734.3,1060.5 L1734.7,1067.2 L1735.1,1059.2 L1735.5,1049.1 L1735.9,1064.8 L1736.4,1056.5 L1736.8,1092.4 L1737.2,1062.3 L1737.6,1061.7 L1738.0,1039.4 L1738.5,1052.9 L1738.9,1055.6 L1739.3,1066.4 L1739.7,1056.6 L1740.1,1064.4 L1740.5,1053.8 L1741.0,1052.1 L1741.4,1043.9 L1741.8,1063.2 L1742.2,1054.4 L1742.6,1061.4 L1743.0,1032.2 L1743.5,1065.4 L1743.9,1053.7 L1744.3,1060.1 L1744.7,1070.7 L1745.1,1049.7 L1745.5,1059.5 L1746.0,1080.6 L1746.4,1052.4 L1746.8,1083.5 L1747.2,1071.7 L1747.6,1055.1 L1748.0,1063.2 L1748.5,1070.0 L1748.9,1046.2 L1749.3,1074.1 L1749.7,1078.8 L1750.1,1062.6 L1750.5,1077.1 L1751.0,1063.2 L1751.4,1074.8 L1751.8,1057.7 L1752.2,1047.1 L1752.6,1030.9 L1753.0,1071.1 L1753.4,1067.1 L1753.9,1062.1 L1754.3,1067.9 L1754.7,1034.5 L1755.1,1070.1 L1755.5,1058.7 L1755.9,1079.4 L1756.4,1075.0 L1756.8,1072.8 L1757.2,1070.2 L1757.6,1060.1 L1758.0,1073.6 L1758.4,1071.8 L1758.8,1077.0 L1759.2,1066.5 L1759.7,1095.5 L1760.1,1069.0 L1760.5,1065.9 L1760.9,1066.8 L1761.3,1064.0 L1761.7,1036.0 L1762.1,1050.1 L1762.6,1080.9 L1763.0,1099.2 L1763.4,1089.8 L1763.8,1089.2 L1764.2,1097.7 L1764.6,1094.8 L1765.0,1080.8 L1765.4,1086.2 L1765.9,1108.7 L1766.3,1065.0 L1766.7,1079.2 L1767.1,1089.5 L1767.5,1085.4 L1767.9,1071.9 L1768.3,1097.9 L1768.7,1091.5 L1769.1,1085.1 L1769.6,1093.7 L1770.0,1085.7 L1770.4,1088.9 L1770.8,1054.6 L1771.2,1080.8 L1771.6,1056.6 L1772.0,1088.7 L1772.4,1080.3 L1772.8,1096.4 L1773.3,1073.9 L1773.7,1089.2 L1774.1,1081.5 L1774.5,1092.9 L1774.9,1093.6 L1775.3,1102.2 L1775.7,1098.6 L1776.1,1071.0 L1776.5,1079.7 L1776.9,1085.2 L1777.4,1079.2 L1777.8,1098.2 L1778.2,1075.6 L1778.6,1098.4 L1779.0,1109.1 L1779.4,1093.9 L1779.8,1084.5 L1780.2,1063.6 L1780.6,1085.3 L1781.0,1106.4 L1781.4,1094.0 L1781.8,1071.3 L1782.3,1095.4 L1782.7,1097.8 L1783.1,1105.6 L1783.5,1082.6 L1783.9,1075.0 L1784.3,1124.0 L1784.7,1103.0 L1785.1,1125.8 L1785.5,1093.5 L1785.9,1092.2 L1786.3,1110.9 L1786.7,1093.7 L1787.2,1128.3 L1787.6,1113.3 L1788.0,1096.8 L1788.4,1085.3 L1788.8,1076.0 L1789.2,1106.8 L1789.6,1103.7 L1790.0,1078.1 L1790.4,1128.6 L1790.8,1101.6 L1791.2,1097.0 L1791.6,1102.1 L1792.0,1094.2 L1792.4,1113.9 L1792.8,1090.2 L1793.2,1100.6 L1793.7,1100.9 L1794.1,1069.4 L1794.5,1107.7 L1794.9,1106.6 L1795.3,1105.4 L1795.7,1110.3 L1796.1,1076.6 L1796.5,1146.2 L1796.9,1092.3 L1797.3,1120.2 L1797.7,1114.5 L1798.1,1116.7 L1798.5,1119.5 L1798.9,1073.5 L1799.3,1093.7 L1799.7,1087.6 L1800.1,1102.5 L1800.5,1096.4 L1800.9,1110.9 L1801.3,1103.4 L1801.8,1093.9 L1802.2,1108.0 L1802.6,1115.7 L1803.0,1118.7 L1803.4,1129.4 L1803.8,1106.7 L1804.2,1116.5 L1804.6,1115.9 L1805.0,1102.2 L1805.4,1097.4 L1805.8,1099.6 L1806.2,1124.0 L1806.6,1120.8 L1807.0,1111.7 L1807.4,1097.7 L1807.8,1117.4 L1808.2,1120.8 L1808.6,1115.3 L1809.0,1093.2 L1809.4,1105.5 L1809.8,1093.4 L1810.2,1119.5 L1810.6,1108.9 L1811.0,1115.0 L1811.4,1102.9 L1811.8,1117.9 L1812.2,1096.7 L1812.6,1097.7 L1813.0,1097.9 L1813.4,1113.6 L1813.8,1085.0 L1814.2,1124.9 L1814.6,1091.8 L1815.0,1108.3 L1815.4,1116.2 L1815.8,1129.2 L1816.2,1126.2 L1816.6,1091.9 L1817.0,1112.4 L1817.4,1127.4 L1817.8,1102.5 L1818.2,1119.5 L1818.6,1120.1 L1819.0,1109.8 L1819.4,1138.9 L1819.8,1119.7 L1820.2,1125.6 L1820.6,1123.6 L1821.0,1090.8 L1821.4,1096.3 L1821.8,1091.0 L1822.2,1119.2 L1822.6,1121.8 L1823.0,1112.1 L1823.4,1112.5 L1823.8,1097.8 L1824.2,1117.3 L1824.6,1140.8 L1825.0,1113.2 L1825.4,1105.6 L1825.8,1122.9 L1826.2,1129.3 L1826.6,1122.9 L1827.0,1149.2 L1827.4,1145.7 L1827.8,1126.2 L1828.2,1113.7 L1828.6,1143.4 L1829.0,1130.8 L1829.4,1118.3 L1829.8,1114.3 L1830.2,1111.2 L1830.6,1149.5 L1831.0,1110.2 L1831.4,1133.8 L1831.8,1085.0 L1832.2,1130.0 L1832.6,1148.9 L1833.0,1151.2 L1833.4,1130.7 L1833.8,1153.3 L1834.2,1137.6 L1834.6,1137.8 L1835.0,1148.8 L1835.4,1096.7 L1835.8,1115.5 L1836.2,1128.9 L1836.6,1147.2 L1837.0,1132.8 L1837.4,1132.0 L1837.8,1131.0 L1838.2,1132.0 L1838.5,1139.5 L1838.9,1137.1 L1839.3,1144.0 L1839.7,1131.3 L1840.1,1125.9 L1840.5,1152.4 L1840.9,1119.5 L1841.3,1138.7 L1841.7,1134.3 L1842.1,1135.3 L1842.5,1143.9 L1842.9,1138.2 L1843.3,1122.8 L1843.7,1117.2 L1844.1,1137.5 L1844.5,1128.5 L1844.9,1140.4 L1845.3,1170.3 L1845.7,1142.3 L1846.1,1124.6 L1846.5,1140.3 L1846.8,1134.2 L1847.2,1142.9 L1847.6,1132.4 L1848.0,1117.0 L1848.4,1130.8 L1848.8,1145.7 L1849.2,1146.2 L1849.6,1133.9 L1850.0,1142.0 L1850.4,1150.6 L1850.8,1142.1 L1851.2,1141.9 L1851.6,1152.5 L1852.0,1145.7 L1852.4,1140.4 L1852.8,1162.7 L1853.1,1155.6 L1853.5,1147.2 L1853.9,1156.4 L1854.3,1172.5 L1854.7,1135.8 L1855.1,1129.4 L1855.5,1144.5 L1855.9,1154.0 L1856.3,1160.1 L1856.7,1131.4 L1857.1,1116.4 L1857.5,1145.0 L1857.9,1153.0 L1858.2,1146.0 L1858.6,1145.5 L1859.0,1168.3 L1859.4,1165.7 L1859.8,1121.8 L1860.2,1150.4 L1860.6,1161.3 L1861.0,1139.6 L1861.4,1160.9 L1861.8,1154.4 L1862.2,1158.6 L1862.6,1093.1 L1862.9,1170.3 L1863.3,1148.2 L1863.7,1148.1 L1864.1,1151.4 L1864.5,1128.5 L1864.9,1128.9 L1865.3,1133.6 L1865.7,1153.5 L1866.1,1167.4 L1866.5,1154.7 L1866.8,1173.1 L1867.2,1145.0 L1867.6,1169.9 L1868.0,1153.5 L1868.4,1159.9 L1868.8,1175.9 L1869.2,1181.3 L1869.6,1142.6 L1870.0,1158.0 L1870.4,1149.7 L1870.7,1145.6 L1871.1,1163.0 L1871.5,1160.2 L1871.9,1141.4 L1872.3,1144.7 L1872.7,1160.4 L1873.1,1170.1 L1873.5,1167.7 L1873.9,1138.9 L1874.2,1125.0 L1874.6,1127.0 L1875.0,1193.7 L1875.4,1122.8 L1875.8,1141.8 L1876.2,1160.7 L1876.6,1190.5 L1877.0,1164.9 L1877.4,1148.8 L1877.7,1143.3 L1878.1,1158.3 L1878.5,1167.2 L1878.9,1161.8 L1879.3,1152.9 L1879.7,1159.1 L1880.1,1140.0 L1880.5,1186.4 L1880.8,1145.9 L1881.2,1153.1 L1881.6,1143.6 L1882.0,1160.9 L1882.4,1171.1 L1882.8,1161.6 L1883.2,1160.7 L1883.6,1177.4 L1883.9,1172.3 L1884.3,1165.9 L1884.7,1166.2 L1885.1,1133.3 L1885.5,1149.9 L1885.9,1202.7 L1886.3,1160.5 L1886.6,1161.6 L1887.0,1178.0 L1887.4,1175.8 L1887.8,1163.9 L1888.2,1150.0 L1888.6,1181.8 L1889.0,1156.0 L1889.3,1150.9 L1889.7,1232.5 L1890.1,1184.8 L1890.5,1172.7 L1890.9,1187.8 L1891.3,1190.1 L1891.7,1168.5 L1892.0,1174.0 L1892.4,1197.6 L1892.8,1186.8 L1893.2,1201.0 L1893.6,1183.7 L1894.0,1113.4 L1894.4,1188.7 L1894.7,1143.6 L1895.1,1192.0 L1895.5,1160.9 L1895.9,1185.5 L1896.3,1191.7 L1896.7,1157.3 L1897.0,1177.3 L1897.4,1178.3 L1897.8,1163.9 L1898.2,1153.8 L1898.6,1176.1 L1899.0,1207.0 L1899.3,1176.4 L1899.7,1175.2 L1900.1,1170.1 L1900.5,1184.1 L1900.9,1191.3 L1901.3,1182.4 L1901.6,1193.6 L1902.0,1155.7 L1902.4,1182.1 L1902.8,1169.8 L1903.2,1179.4 L1903.6,1164.1 L1903.9,1186.5 L1904.3,1152.2 L1904.7,1191.2 L1905.1,1199.4 L1905.5,1190.3 L1905.9,1201.6 L1906.2,1197.1 L1906.6,1167.6 L1907.0,1161.4 L1907.4,1178.3 L1907.8,1190.9 L1908.1,1185.6 L1908.5,1214.2 L1908.9,1187.3 L1909.3,1156.5 L1909.7,1180.2 L1910.1,1158.6 L1910.4,1172.5 L1910.8,1169.1 L1911.2,1181.1 L1911.6,1187.9 L1912.0,1172.4 L1912.3,1170.7 L1912.7,1179.3 L1913.1,1200.2 L1913.5,1195.3 L1913.9,1176.7 L1914.2,1175.4 L1914.6,1197.6 L1915.0,1157.3 L1915.4,1175.6 L1915.8,1173.3 L1916.2,1187.0 L1916.5,1182.0 L1916.9,1203.2 L1917.3,1199.0 L1917.7,1173.5 L1918.1,1196.1 L1918.4,1189.6 L1918.8,1159.5 L1919.2,1199.5 L1919.6,1206.5 L1919.9,1187.6 L1920.3,1188.4 L1920.7,1208.3 L1921.1,1190.3 L1921.5,1213.9 L1921.8,1211.0 L1922.2,1169.0 L1922.6,1177.5 L1923.0,1213.3 L1923.4,1216.2 L1923.7,1194.4 L1924.1,1168.7 L1924.5,1209.7 L1924.9,1200.0 L1925.3,1202.0 L1925.6,1232.8 L1926.0,1163.9 L1926.4,1184.4 L1926.8,1213.4 L1927.1,1201.5 L1927.5,1169.0 L1927.9,1205.0 L1928.3,1183.9 L1928.7,1216.6 L1929.0,1153.7 L1929.4,1192.8 L1929.8,1192.0 L1930.2,1215.8 L1930.5,1203.0 L1930.9,1177.3 L1931.3,1186.5 L1931.7,1198.6 L1932.1,1207.6 L1932.4,1181.8 L1932.8,1203.6 L1933.2,1231.2 L1933.6,1218.8 L1933.9,1218.0 L1934.3,1217.5 L1934.7,1216.0 L1935.1,1208.4 L1935.5,1207.3 L1935.8,1225.0 L1936.2,1173.8 L1936.6,1226.6 L1937.0,1190.8 L1937.3,1199.6 L1937.7,1196.3 L1938.1,1212.9 L1938.5,1229.4 L1938.8,1205.7 L1939.2,1209.0 L1939.6,1232.7 L1940.0,1220.2 L1940.3,1232.8 L1940.7,1209.8 L1941.1,1233.5 L1941.5,1193.0 L1941.8,1173.2 L1942.2,1206.6 L1942.6,1228.6 L1943.0,1215.1 L1943.3,1192.9 L1943.7,1194.9 L1944.1,1200.8 L1944.5,1213.7 L1944.8,1234.2 L1945.2,1203.6 L1945.6,1218.6 L1946.0,1231.0 L1946.3,1216.0 L1946.7,1220.3 L1947.1,1219.4 L1947.5,1255.8 L1947.8,1202.0 L1948.2,1189.8 L1948.6,1220.9 L1949.0,1173.6 L1949.3,1198.9 L1949.7,1206.1 L1950.1,1196.4 L1950.5,1203.1 L1950.8,1220.1 L1951.2,1225.6 L1951.6,1198.4 L1952.0,1228.2 L1952.3,1205.4 L1952.7,1178.8 L1953.1,1213.2 L1953.4,1210.7 L1953.8,1223.0 L1954.2,1218.6 L1954.6,1214.0 L1954.9,1178.6 L1955.3,1208.0 L1955.7,1223.6 L1956.1,1225.5 L1956.4,1199.4 L1956.8,1232.3 L1957.2,1253.2 L1957.5,1222.8 L1957.9,1224.6 L1958.3,1225.8 L1958.7,1208.8 L1959.0,1235.9 L1959.4,1231.8 L1959.8,1228.1 L1960.2,1211.2 L1960.5,1231.5 L1960.9,1234.1 L1961.3,1226.0 L1961.6,1254.4 L1962.0,1257.1 L1962.4,1240.2 L1962.8,1219.2 L1963.1,1236.9 L1963.5,1231.2 L1963.9,1227.8 L1964.2,1226.6 L1964.6,1211.0 L1965.0,1213.3 L1965.4,1241.5 L1965.7,1256.9 L1966.1,1226.3 L1966.5,1225.2 L1966.8,1239.5 L1967.2,1190.7 L1967.6,1205.5 L1967.9,1190.3 L1968.3,1237.0 L1968.7,1227.0 L1969.1,1239.9 L1969.4,1226.6 L1969.8,1244.9 L1970.2,1243.1 L1970.5,1205.0 L1970.9,1193.8 L1971.3,1234.8 L1971.6,1251.5 L1972.0,1204.7 L1972.4,1236.9 L1972.8,1199.5 L1973.1,1181.0 L1973.5,1207.4 L1973.9,1244.4 L1974.2,1214.0 L1974.6,1234.7 L1975.0,1235.6 L1975.3,1249.5 L1975.7,1245.1 L1976.1,1224.7 L1976.5,1241.4 L1976.8,1245.3 L1977.2,1240.8 L1977.6,1220.0 L1977.9,1209.3 L1978.3,1253.7 L1978.7,1215.2 L1979.0,1240.7 L1979.4,1245.3 L1979.8,1199.1 L1980.1,1245.2 L1980.5,1198.0 L1980.9,1233.7 L1981.2,1197.5 L1981.6,1202.7 L1982.0,1236.6 L1982.3,1245.2 L1982.7,1257.4 L1983.1,1274.2 L1983.4,1256.5 L1983.8,1206.5 L1984.2,1227.1 L1984.6,1229.6 L1984.9,1231.5 L1985.3,1255.7 L1985.7,1247.8 L1986.0,1215.2 L1986.4,1230.1 L1986.8,1231.3 L1987.1,1250.5 L1987.5,1209.9 L1987.9,1243.8 L1988.2,1242.2 L1988.6,1240.3 L1989.0,1256.3 L1989.3,1256.6 L1989.7,1268.0 L1990.1,1236.9 L1990.4,1274.3 L1990.8,1266.5 L1991.2,1246.7 L1991.5,1282.1 L1991.9,1196.3 L1992.3,1234.0 L1992.6,1234.8 L1993.0,1246.4 L1993.3,1244.2 L1993.7,1257.4 L1994.1,1218.6 L1994.4,1222.3 L1994.8,1240.4 L1995.2,1245.4 L1995.5,1249.5 L1995.9,1242.2 L1996.3,1250.9 L1996.6,1239.9 L1997.0,1260.5 L1997.4,1243.8 L1997.7,1261.2 L1998.1,1237.5 L1998.5,1252.8 L1998.8,1269.1 L1999.2,1266.1 L1999.6,1254.4 L1999.9,1263.8 L2000.3,1249.2 L2000.7,1250.2 L2001.0,1240.9 L2001.4,1228.8 L2001.7,1253.5 L2002.1,1244.4 L2002.5,1271.0 L2002.8,1273.1 L2003.2,1284.3 L2003.6,1267.5 L2003.9,1245.3 L2004.3,1255.3 L2004.7,1253.9 L2005.0,1271.4 L2005.4,1258.0 L2005.8,1269.4 L2006.1,1271.7 L2006.5,1244.2 L2006.8,1285.9 L2007.2,1212.2 L2007.6,1285.2 L2007.9,1270.7 L2008.3,1285.9 L2008.7,1257.8 L2009.0,1288.2 L2009.4,1227.3 L2009.7,1275.7 L2010.1,1265.8 L2010.5,1267.0 L2010.8,1208.8 L2011.2,1262.1 L2011.6,1290.7 L2011.9,1282.6 L2012.3,1243.2 L2012.6,1271.4 L2013.0,1287.5 L2013.4,1256.8 L2013.7,1280.6 L2014.1,1279.8 L2014.5,1271.6 L2014.8,1260.2 L2015.2,1271.1 L2015.5,1250.5 L2015.9,1281.3 L2016.3,1288.1 L2016.6,1291.0 L2017.0,1268.3 L2017.4,1231.1 L2017.7,1287.0 L2018.1,1245.1 L2018.4,1292.5 L2018.8,1261.6 L2019.2,1275.7 L2019.5,1274.7 L2019.9,1287.7 L2020.2,1280.7 L2020.6,1269.4 L2021.0,1299.6 L2021.3,1256.6 L2021.7,1269.8 L2022.0,1288.7 L2022.4,1294.2 L2022.8,1263.0 L2023.1,1280.9 L2023.5,1285.3 L2023.9,1246.5 L2024.2,1273.4 L2024.6,1281.4 L2024.9,1256.3 L2025.3,1252.7 L2025.7,1289.7 L2026.0,1304.4 L2026.4,1218.0 L2026.7,1264.4 L2027.1,1282.0 L2027.5,1231.5 L2027.8,1233.3 L2028.2,1242.5 L2028.5,1286.0 L2028.9,1266.2 L2029.3,1284.1 L2029.6,1277.4 L2030.0,1237.3 L2030.3,1300.5 L2030.7,1270.5 L2031.0,1253.6 L2031.4,1279.4 L2031.8,1310.4 L2032.1,1280.4 L2032.5,1238.3 L2032.8,1260.8 L2033.2,1221.9 L2033.6,1276.2 L2033.9,1249.9 L2034.3,1279.0 L2034.6,1291.5 L2035.0,1280.7 L2035.4,1269.0 L2035.7,1288.4 L2036.1,1249.9 L2036.4,1278.5 L2036.8,1254.6 L2037.1,1247.6 L2037.5,1273.9 L2037.9,1305.8 L2038.2,1287.3 L2038.6,1285.3 L2038.9,1242.2 L2039.3,1203.0 L2039.7,1323.3 L2040.0,1286.9 L2040.4,1261.9 L2040.7,1262.3 L2041.1,1281.7 L2041.4,1286.2 L2041.8,1277.6 L2042.2,1292.3 L2042.5,1237.2 L2042.9,1256.5 L2043.2,1296.5 L2043.6,1263.0 L2043.9,1252.1 L2044.3,1267.1 L2044.7,1311.8 L2045.0,1304.7 L2045.4,1254.3 L2045.7,1276.8 L2046.1,1276.2 L2046.4,1302.9 L2046.8,1263.2 L2047.2,1299.6 L2047.5,1306.7 L2047.9,1297.9 L2048.2,1299.1 L2048.6,1339.6 L2048.9,1290.5 L2049.3,1297.9 L2049.6,1256.6 L2050.0,1337.2 L2050.4,1312.3 L2050.7,1335.2 L2051.1,1282.8 L2051.4,1300.5 L2051.8,1274.7 L2052.1,1233.2 L2052.5,1264.2 L2052.8,1264.6 L2053.2,1307.6 L2053.6,1294.6 L2053.9,1282.1 L2054.3,1305.2 L2054.6,1292.0 L2055.0,1306.8 L2055.3,1268.5 L2055.7,1277.8 L2056.0,1307.4 L2056.4,1284.3 L2056.8,1267.8 L2057.1,1341.6 L2057.5,1308.9 L2057.8,1292.3 L2058.2,1263.8 L2058.5,1325.8 L2058.9,1262.1 L2059.2,1315.9 L2059.6,1342.6 L2059.9,1289.8 L2060.3,1303.1 L2060.7,1296.1 L2061.0,1299.8 L2061.4,1301.0 L2061.7,1274.2 L2062.1,1313.8 L2062.4,1295.0 L2062.8,1300.1 L2063.1,1302.5 L2063.5,1292.8 L2063.8,1314.3 L2064.2,1279.3 L2064.5,1275.8 L2064.9,1327.6 L2065.2,1326.5 L2065.6,1258.9 L2066.0,1294.9 L2066.3,1306.4 L2066.7,1285.1 L2067.0,1292.1 L2067.4,1292.9 L2067.7,1329.0 L2068.1,1292.4 L2068.4,1300.2 L2068.8,1296.3 L2069.1,1340.5 L2069.5,1250.8 L2069.8,1270.7 L2070.2,1256.6 L2070.5,1308.2 L2070.9,1306.1 L2071.2,1327.4 L2071.6,1327.8 L2072.0,1298.0 L2072.3,1311.7 L2072.7,1309.3 L2073.0,1315.9 L2073.4,1286.7 L2073.7,1315.4 L2074.1,1330.0 L2074.4,1305.3 L2074.8,1344.5 L2075.1,1303.5 L2075.5,1270.8 L2075.8,1289.6 L2076.2,1292.4 L2076.5,1257.1 L2076.9,1337.4 L2077.2,1299.8 L2077.6,1234.1 L2077.9,1293.0 L2078.3,1256.1 L2078.6,1344.1 L2079.0,1322.1 L2079.3,1312.1 L2079.7,1323.5 L2080.0,1287.2 L2080.4,1347.3 L2080.7,1297.2 L2081.1,1330.0 L2081.4,1324.0 L2081.8,1338.8 L2082.1,1296.3 L2082.5,1308.0 L2082.8,1316.8 L2083.2,1293.3 L2083.5,1311.3 L2083.9,1299.9 L2084.2,1358.6 L2084.6,1346.6 L2084.9,1311.0 L2085.3,1343.2 L2085.6,1327.1 L2086.0,1276.0 L2086.3,1314.2 L2086.7,1318.4 L2087.0,1312.1 L2087.4,1293.6 L2087.7,1267.5 L2088.1,1278.0 L2088.4,1313.2 L2088.8,1344.5 L2089.1,1249.1 L2089.5,1339.0 L2089.8,1319.8 L2090.2,1310.0 L2090.5,1283.4 L2090.9,1318.9 L2091.2,1317.7 L2091.6,1332.9 L2091.9,1376.7 L2092.3,1319.8 L2092.6,1301.8 L2093.0,1308.4 L2093.3,1281.8 L2093.7,1318.0 L2094.0,1370.1 L2094.4,1326.2 L2094.7,1298.0 L2095.1,1344.5 L2095.4,1278.0 L2095.8,1287.3 L2096.1,1335.8 L2096.5,1301.1 L2096.8,1322.8 L2097.2,1318.0 L2097.5,1266.7 L2097.9,1326.5 L2098.2,1290.5 L2098.6,1341.3 L2098.9,1316.1 L2099.2,1320.0 L2099.6,1321.6 L2099.9,1295.6 L2100.3,1345.6 L2100.6,1300.1 L2101.0,1356.9 L2101.3,1338.7 L2101.7,1350.8 L2102.0,1299.4 L2102.4,1328.4 L2102.7,1353.1 L2103.1,1324.9 L2103.4,1340.0 L2103.8,1304.4 L2104.1,1291.7 L2104.5,1316.9 L2104.8,1323.5 L2105.2,1314.1 L2105.5,1336.6 L2105.8,1315.2 L2106.2,1302.9 L2106.5,1282.6 L2106.9,1296.3 L2107.2,1342.9 L2107.6,1338.8 L2107.9,1333.0 L2108.3,1366.8 L2108.6,1329.7 L2109.0,1298.1 L2109.3,1322.1 L2109.7,1301.2 L2110.0,1357.4 L2110.3,1342.3 L2110.7,1358.8 L2111.0,1348.2 L2111.4,1346.6 L2111.7,1302.5 L2112.1,1351.9 L2112.4,1331.8 L2112.8,1305.5 L2113.1,1357.2 L2113.5,1328.5 L2113.8,1341.7 L2114.1,1292.6 L2114.5,1338.7 L2114.8,1272.9 L2115.2,1254.5 L2115.5,1324.1 L2115.9,1332.6 L2116.2,1311.3 L2116.6,1309.9 L2116.9,1340.8 L2117.3,1306.5 L2117.6,1330.7 L2117.9,1292.3 L2118.3,1308.5 L2118.6,1313.5 L2119.0,1353.9 L2119.3,1335.9 L2119.7,1393.0 L2120.0,1351.9 L2120.4,1293.5 L2120.7,1342.7 L2121.0,1305.4 L2121.4,1348.5 L2121.7,1322.6 L2122.1,1348.0 L2122.4,1333.3 L2122.8,1354.9 L2123.1,1335.7 L2123.5,1402.3 L2123.8,1347.7 L2124.1,1347.2 L2124.5,1365.9 L2124.8,1374.1 L2125.2,1293.0 L2125.5,1362.0 L2125.9,1337.1 L2126.2,1308.3 L2126.5,1279.4 L2126.9,1368.4 L2127.2,1377.5 L2127.6,1356.9 L2127.9,1328.3 L2128.3,1363.4 L2128.6,1348.5 L2128.9,1358.7 L2129.3,1340.2 L2129.6,1372.6 L2130.0,1339.4 L2130.3,1311.0 L2130.7,1342.6 L2131.0,1391.9 L2131.3,1351.7 L2131.7,1249.7 L2132.0,1341.3 L2132.4,1312.3 L2132.7,1380.3 L2133.1,1355.7 L2133.4,1318.3 L2133.7,1325.0 L2134.1,1305.2 L2134.4,1365.2 L2134.8,1339.5 L2135.1,1349.2 L2135.5,1304.5 L2135.8,1366.6 L2136.1,1329.7 L2136.5,1342.2 L2136.8,1320.3 L2137.2,1342.6 L2137.5,1307.9 L2137.8,1328.9 L2138.2,1372.4 L2138.5,1317.4 L2138.9,1317.4 L2139.2,1398.2 L2139.6,1364.0 L2139.9,1319.3 L2140.2,1392.8 L2140.6,1357.8 L2140.9,1400.6 L2141.3,1357.8 L2141.6,1298.7 L2141.9,1355.6 L2142.3,1365.6 L2142.6,1296.7 L2143.0,1283.5 L2143.3,1367.2 L2143.6,1365.0 L2144.0,1314.4 L2144.3,1354.1 L2144.7,1359.1 L2145.0,1359.8 L2145.3,1289.2 L2145.7,1337.7 L2146.0,1314.0 L2146.4,1387.0 L2146.7,1396.3 L2147.0,1354.2 L2147.4,1379.4 L2147.7,1361.3 L2148.1,1348.1 L2148.4,1366.7 L2148.7,1351.7 L2149.1,1353.3 L2149.4,1358.2 L2149.8,1347.8 L2150.1,1394.9 L2150.4,1292.6 L2150.8,1370.5 L2151.1,1342.1 L2151.5,1409.4 L2151.8,1424.1 L2152.1,1320.6 L2152.5,1328.1 L2152.8,1326.4 L2153.2,1303.3 L2153.5,1344.5 L2153.8,1355.3 L2154.2,1366.5 L2154.5,1361.5 L2154.9,1369.4 L2155.2,1377.9 L2155.5,1361.3 L2155.9,1359.8 L2156.2,1379.3 L2156.6,1395.5 L2156.9,1390.9 L2157.2,1279.8 L2157.6,1386.6 L2157.9,1375.0 L2158.2,1370.7 L2158.6,1414.3 L2158.9,1375.1 L2159.3,1340.4 L2159.6,1373.2 L2159.9,1385.6 L2160.3,1380.6 L2160.6,1371.1 L2161.0,1354.5 L2161.3,1403.2 L2161.6,1368.5 L2162.0,1437.4 L2162.3,1354.5 L2162.6,1406.3 L2163.0,1424.9 L2163.3,1398.5 L2163.7,1382.1 L2164.0,1341.4 L2164.3,1382.1 L2164.7,1301.5 L2165.0,1332.8 L2165.3,1374.6 L2165.7,1305.5 L2166.0,1387.7 L2166.4,1358.4 L2166.7,1398.4 L2167.0,1315.1 L2167.4,1351.8 L2167.7,1369.9 L2168.0,1391.6 L2168.4,1379.8 L2168.7,1382.3 L2169.0,1387.5 L2169.4,1341.8 L2169.7,1420.6 L2170.1,1396.5 L2170.4,1356.1 L2170.7,1431.1 L2171.1,1369.6 L2171.4,1348.4 L2171.7,1290.4 L2172.1,1387.9 L2172.4,1398.8 L2172.7,1397.5 L2173.1,1363.3 L2173.4,1406.4 L2173.8,1393.7 L2174.1,1389.4 L2174.4,1345.9 L2174.8,1377.2 L2175.1,1382.2 L2175.4,1379.8 L2175.8,1388.4 L2176.1,1340.1 L2176.4,1406.1 L2176.8,1292.6 L2177.1,1408.9 L2177.4,1330.8 L2177.8,1329.7 L2178.1,1369.0 L2178.5,1287.2 L2178.8,1408.4 L2179.1,1382.9 L2179.5,1353.2 L2179.8,1417.7 L2180.1,1442.6 L2180.5,1303.5 L2180.8,1379.9 L2181.1,1392.9 L2181.5,1421.4 L2181.8,1383.4 L2182.1,1389.7 L2182.5,1377.1 L2182.8,1346.2 L2183.1,1430.3 L2183.5,1415.0 L2183.8,1401.0 L2184.1,1413.3 L2184.5,1348.1 L2184.8,1394.5 L2185.2,1376.1 L2185.5,1355.4 L2185.8,1382.9 L2186.2,1401.0 L2186.5,1364.4 L2186.8,1342.3 L2187.2,1392.5 L2187.5,1386.0 L2187.8,1360.4 L2188.2,1333.1 L2188.5,1344.6 L2188.8,1387.3 L2189.2,1350.0 L2189.5,1417.2 L2189.8,1391.5 L2190.2,1362.4 L2190.5,1451.1 L2190.8,1319.9 L2191.2,1351.2 L2191.5,1429.4 L2191.8,1447.8 L2192.2,1390.7 L2192.5,1401.9 L2192.8,1369.6 L2193.2,1445.5 L2193.5,1389.9 L2193.8,1374.2 L2194.2,1420.3 L2194.5,1408.3 L2194.8,1423.5 L2195.2,1340.4 L2195.5,1392.4 L2195.8,1399.2 L2196.2,1442.7 L2196.5,1317.2 L2196.8,1418.6 L2197.2,1376.2 L2197.5,1358.7 L2197.8,1424.0 L2198.2,1359.7 L2198.5,1367.3 L2198.8,1395.8 L2199.1,1392.9 L2199.5,1342.6 L2199.8,1401.9 L2200.1,1428.6 L2200.5,1358.9 L2200.8,1404.0 L2201.1,1381.9 L2201.5,1385.0 L2201.8,1411.4 L2202.1,1413.6 L2202.5,1434.4 L2202.8,1424.5 L2203.1,1411.2 L2203.5,1416.3 L2203.8,1392.7 L2204.1,1366.1 L2204.5,1378.2 L2204.8,1425.7 L2205.1,1407.6 L2205.5,1371.6 L2205.8,1414.3 L2206.1,1398.7 L2206.4,1382.8 L2206.8,1330.2 L2207.1,1402.6 L2207.4,1346.5 L2207.8,1420.1 L2208.1,1410.6 L2208.4,1384.8 L2208.8,1396.1 L2209.1,1409.7 L2209.4,1351.4 L2209.8,1374.9 L2210.1,1385.8 L2210.4,1423.6 L2210.7,1409.4 L2211.1,1403.6 L2211.4,1395.0 L2211.7,1314.4 L2212.1,1399.6 L2212.4,1388.7 L2212.7,1348.6 L2213.1,1414.7 L2213.4,1445.0 L2213.7,1386.5 L2214.0,1426.8 L2214.4,1391.7 L2214.7,1453.2 L2215.0,1409.0 L2215.4,1457.8 L2215.7,1409.7 L2216.0,1386.7 L2216.4,1417.5 L2216.7,1395.9 L2217.0,1398.5 L2217.3,1402.8 L2217.7,1324.2 L2218.0,1305.0 L2218.3,1424.2 L2218.7,1444.0 L2219.0,1407.5 L2219.3,1484.1 L2219.7,1377.0 L2220.0,1413.3 L2220.3,1384.6 L2220.6,1392.4 L2221.0,1380.6 L2221.3,1346.8 L2221.6,1420.0 L2222.0,1347.8 L2222.3,1418.5 L2222.6,1396.4 L2222.9,1391.6 L2223.3,1460.5 L2223.6,1367.8 L2223.9,1366.3 L2224.3,1409.0 L2224.6,1453.9 L2224.9,1391.2 L2225.2,1339.4 L2225.6,1409.1 L2225.9,1367.7 L2226.2,1421.1 L2226.6,1395.2 L2226.9,1439.6 L2227.2,1374.6 L2227.5,1424.0 L2227.9,1339.6 L2228.2,1433.8 L2228.5,1417.5 L2228.8,1435.4 L2229.2,1424.0 L2229.5,1476.5 L2229.8,1442.2 L2230.2,1450.3 L2230.5,1400.0 L2230.8,1341.9 L2231.1,1371.3 L2231.5,1405.5 L2231.8,1398.8 L2232.1,1369.8 L2232.5,1420.7 L2232.8,1402.1 L2233.1,1419.8 L2233.4,1400.6 L2233.8,1396.0 L2234.1,1388.5 L2234.4,1361.7 L2234.7,1379.9 L2235.1,1380.7 L2235.4,1462.8 L2235.7,1422.1 L2236.0,1449.6 L2236.4,1412.8 L2236.7,1348.1 L2237.0,1480.7 L2237.4,1450.7 L2237.7,1474.0 L2238.0,1436.0 L2238.3,1440.8 L2238.7,1418.5 L2239.0,1426.0 L2239.3,1485.0 L2239.6,1416.1 L2240.0,1463.2 L2240.3,1440.3 L2240.6,1457.4 L2240.9,1414.0 L2241.3,1472.4 L2241.6,1341.5 L2241.9,1429.1 L2242.3,1431.7 L2242.6,1394.2 L2242.9,1422.1 L2243.2,1452.9 L2243.6,1421.5 L2243.9,1407.5 L2244.2,1388.4 L2244.5,1446.2 L2244.9,1469.6 L2245.2,1444.7 L2245.5,1418.0 L2245.8,1409.2 L2246.2,1407.7 L2246.5,1436.5 L2246.8,1419.3 L2247.1,1477.2 L2247.5,1420.2 L2247.8,1495.1 L2248.1,1372.9 L2248.4,1300.2 L2248.8,1408.8 L2249.1,1467.4 L2249.4,1403.5 L2249.7,1470.3 L2250.1,1414.2 L2250.4,1429.4 L2250.7,1495.0 L2251.0,1471.8 L2251.4,1565.3 L2251.7,1357.6 L2252.0,1353.3 L2252.3,1415.0 L2252.7,1390.4 L2253.0,1520.9 L2253.3,1445.4 L2253.6,1408.1 L2254.0,1410.6 L2254.3,1421.7 L2254.6,1415.8 L2254.9,1433.1 L2255.3,1401.2 L2255.6,1397.7 L2255.9,1385.5 L2256.2,1487.6 L2256.5,1453.0 L2256.9,1399.6 L2257.2,1431.9 L2257.5,1457.5 L2257.8,1421.0 L2258.2,1413.9 L2258.5,1326.2 L2258.8,1414.2 L2259.1,1456.3 L2259.5,1476.9 L2259.8,1419.5 L2260.1,1449.6 L2260.4,1518.8 L2260.8,1400.4 L2261.1,1417.3 L2261.4,1425.3 L2261.7,1394.9 L2262.0,1454.8 L2262.4,1393.4 L2262.7,1398.8 L2263.0,1414.0 L2263.3,1395.2 L2263.7,1561.4 L2264.0,1376.6 L2264.3,1432.5 L2264.6,1431.9 L2265.0,1388.8 L2265.3,1424.6 L2265.6,1435.1 L2265.9,1426.3 L2266.2,1434.7 L2266.6,1365.6 L2266.9,1413.9 L2267.2,1404.8 L2267.5,1401.1 L2267.9,1374.7 L2268.2,1430.6 L2268.5,1458.3 L2268.8,1465.4 L2269.1,1417.3 L2269.5,1387.0 L2269.8,1393.7 L2270.1,1478.8 L2270.4,1523.8 L2270.8,1387.1 L2271.1,1531.6 L2271.4,1473.7 L2271.7,1451.6 L2272.0,1441.6 L2272.4,1378.2 L2272.7,1371.9 L2273.0,1379.4 L2273.3,1445.8 L2273.6,1401.9 L2274.0,1470.3 L2274.3,1377.7 L2274.6,1478.1 L2274.9,1439.9 L2275.3,1399.4 L2275.6,1446.0 L2275.9,1376.8 L2276.2,1460.3 L2276.5,1428.2 L2276.9,1465.1 L2277.2,1288.6 L2277.5,1406.8 L2277.8,1526.0 L2278.1,1359.3 L2278.5,1394.2 L2278.8,1313.2 L2279.1,1439.3 L2279.4,1456.1 L2279.7,1368.0 L2280.1,1437.1 L2280.4,1428.9 L2280.7,1445.4 L2281.0,1369.1 L2281.4,1506.5 L2281.7,1460.2 L2282.0,1353.4 L2282.3,1470.0 L2282.6,1495.1 L2283.0,1428.4 L2283.3,1334.1 L2283.6,1523.3 L2283.9,1420.4 L2284.2,1514.3 L2284.6,1426.6 L2284.9,1518.4 L2285.2,1430.0 L2285.5,1411.3 L2285.8,1498.7 L2286.2,1366.4 L2286.5,1439.0 L2286.8,1450.7 L2287.1,1501.8 L2287.4,1609.1 L2287.8,1416.3 L2288.1,1423.5 L2288.4,1428.5 L2288.7,1495.5 L2289.0,1457.6 L2289.3,1440.6 L2289.7,1460.3 L2290.0,1449.8 L2290.3,1452.0 L2290.6,1402.1 L2290.9,1475.5 L2291.3,1426.0 L2291.6,1441.4 L2291.9,1431.0 L2292.2,1367.3 L2292.5,1402.3 L2292.9,1492.5 L2293.2,1522.3 L2293.5,1424.9 L2293.8,1392.8 L2294.1,1447.8 L2294.5,1410.5 L2294.8,1387.2 L2295.1,1445.8 L2295.4,1463.6 L2295.7,1498.3 L2296.0,1446.3 L2296.4,1278.0 L2296.7,1427.7 L2297.0,1439.4 L2297.3,1456.3 L2297.6,1447.5 L2298.0,1406.1 L2298.3,1506.2 L2298.6,1437.4 L2298.9,1378.2 L2299.2,1453.8 L2299.5,1413.6 L2299.9,1437.5 L2300.2,1412.8 L2300.5,1429.4 L2300.8,1465.0 L2301.1,1437.0 L2301.5,1434.1 L2301.8,1486.1 L2302.1,1501.0 L2302.4,1431.8 L2302.7,1439.8 L2303.0,1473.5 L2303.4,1421.9 L2303.7,1470.2 L2304.0,1444.2 L2304.3,1394.4 L2304.6,1357.0 L2304.9,1414.6 L2305.3,1453.7 L2305.6,1405.5 L2305.9,1495.1 L2306.2,1461.3 L2306.5,1417.3 L2306.8,1453.0 L2307.2,1428.3 L2307.5,1460.1 L2307.8,1387.9 L2308.1,1461.6 L2308.4,1520.2 L2308.7,1495.2 L2309.1,1472.7 L2309.4,1446.5 L2309.7,1469.1 L2310.0,1407.5 L2310.3,1459.8 L2310.6,1451.0 L2311.0,1424.9 L2311.3,1499.5 L2311.6,1546.8 L2311.9,1445.8 L2312.2,1512.1 L2312.5,1442.0 L2312.9,1521.9 L2313.2,1423.3 L2313.5,1441.9 L2313.8,1477.0 L2314.1,1483.3 L2314.4,1452.0 L2314.8,1457.6 L2315.1,1491.2 L2315.4,1481.0 L2315.7,1459.3 L2316.0,1431.3 L2316.3,1481.4 L2316.7,1478.4 L2317.0,1471.7 L2317.3,1418.9 L2317.6,1565.1 L2317.9,1460.0 L2318.2,1445.3 L2318.5,1450.6 L2318.9,1429.3 L2319.2,1425.5 L2319.5,1449.5 L2319.8,1479.7 L2320.1,1445.7 L2320.4,1440.7 L2320.8,1457.5 L2321.1,1465.7 L2321.4,1487.2 L2321.7,1405.9 L2322.0,1431.0 L2322.3,1417.5 L2322.6,1476.2 L2323.0,1461.9 L2323.3,1438.4 L2323.6,1530.3 L2323.9,1569.4 L2324.2,1449.5 L2324.5,1440.7 L2324.8,1481.3 L2325.2,1541.3 L2325.5,1472.0 L2325.8,1464.8 L2326.1,1456.6 L2326.4,1494.2 L2326.7,1504.7 L2327.0,1578.7 L2327.4,1471.2 L2327.7,1507.6 L2328.0,1393.9 L2328.3,1493.8 L2328.6,1433.9 L2328.9,1470.2 L2329.2,1487.7 L2329.6,1488.8 L2329.9,1489.8 L2330.2,1448.9 L2330.5,1477.6 L2330.8,1505.8 L2331.1,1362.2 L2331.4,1471.1 L2331.8,1470.3 L2332.1,1473.7 L2332.4,1469.1 L2332.7,1471.8 L2333.0,1500.7 L2333.3,1466.5 L2333.6,1518.5 L2333.9,1468.5 L2334.3,1513.8 L2334.6,1485.8 L2334.9,1447.6 L2335.2,1440.4 L2335.5,1513.1 L2335.8,1507.3 L2336.1,1481.4 L2336.5,1365.9 L2336.8,1480.4 L2337.1,1529.6 L2337.4,1386.0 L2337.7,1599.8 L2338.0,1519.2 L2338.3,1416.9 L2338.6,1532.1 L2339.0,1380.9 L2339.3,1396.6 L2339.6,1472.9 L2339.9,1474.7 L2340.2,1538.0 L2340.5,1451.4 L2340.8,1604.2 L2341.1,1541.5 L2341.5,1453.0 L2341.8,1554.9 L2342.1,1420.7 L2342.4,1613.0 L2342.7,1453.3 L2343.0,1536.2 L2343.3,1471.3 L2343.6,1430.1 L2344.0,1573.8 L2344.3,1488.4 L2344.6,1477.8 L2344.9,1459.7 L2345.2,1416.5 L2345.5,1522.8 L2345.8,1488.5 L2346.1,1417.7 L2346.4,1489.7 L2346.8,1502.1 L2347.1,1431.2 L2347.4,1472.5 L2347.7,1431.0 L2348.0,1553.3 L2348.3,1491.9 L2348.6,1494.5 L2348.9,1446.4 L2349.3,1428.3 L2349.6,1456.1 L2349.9,1442.2 L2350.2,1487.9 L2350.5,1453.5 L2350.8,1523.2 L2351.1,1525.3 L2351.4,1505.6 L2351.7,1490.8 L2352.1,1465.8 L2352.4,1483.7 L2352.7,1513.3 L2353.0,1506.7 L2353.3,1518.6 L2353.6,1577.3 L2353.9,1415.1 L2354.2,1615.1 L2354.5,1457.2 L2354.8,1477.1 L2355.2,1502.1 L2355.5,1444.7 L2355.8,1497.2 L2356.1,1538.5 L2356.4,1447.1 L2356.7,1517.3 L2357.0,1458.8 L2357.3,1495.1 L2357.6,1480.3 L2358.0,1601.4 L2358.3,1561.2 L2358.6,1487.3 L2358.9,1398.2 L2359.2,1467.9 L2359.5,1444.3 L2359.8,1598.2 L2360.1,1522.2 L2360.4,1442.2 L2360.7,1463.4 L2361.1,1474.5 L2361.4,1436.3 L2361.7,1570.2 L2362.0,1609.3 L2362.3,1540.7 L2362.6,1545.5 L2362.9,1482.9 L2363.2,1448.3 L2363.5,1510.5 L2363.8,1455.3 L2364.1,1480.0 L2364.5,1475.2 L2364.8,1464.2 L2365.1,1452.9 L2365.4,1496.7 L2365.7,1562.1 L2366.0,1472.0 L2366.3,1513.5 L2366.6,1462.4 L2366.9,1492.7 L2367.2,1477.1 L2367.5,1545.9 L2367.9,1471.9 L2368.2,1429.1 L2368.5,1540.1 L2368.8,1473.0 L2369.1,1502.2 L2369.4,1453.3 L2369.7,1504.8 L2370.0,1479.4 L2370.3,1472.6 L2370.6,1561.3 L2370.9,1413.0 L2371.3,1423.7 L2371.6,1474.4 L2371.9,1557.1 L2372.2,1533.8 L2372.5,1557.4 L2372.8,1584.9 L2373.1,1474.7 L2373.4,1560.1 L2373.7,1459.4 L2374.0,1477.8 L2374.3,1490.0 L2374.6,1496.9 L2375.0,1611.5 L2375.3,1472.2 L2375.6,1463.8 L2375.9,1503.8 L2376.2,1460.9 L2376.5,1563.2 L2376.8,1595.7 L2377.1,1481.5 L2377.4,1454.2 L2377.7,1500.2 L2378.0,1435.4 L2378.3,1528.5 L2378.6,1445.0 L2379.0,1477.6 L2379.3,1560.0 L2379.6,1533.6 L2379.9,1565.8 L2380.2,1466.8 L2380.5,1534.1 L2380.8,1526.6 L2381.1,1494.4 L2381.4,1518.1 L2381.7,1494.2 L2382.0,1476.3 L2382.3,1542.5 L2382.6,1620.8 L2382.9,1501.4 L2383.3,1537.2 L2383.6,1489.6 L2383.9,1576.7 L2384.2,1550.7 L2384.5,1488.3 L2384.8,1593.8 L2385.1,1506.7 L2385.4,1481.8 L2385.7,1561.0 L2386.0,1473.9 L2386.3,1562.9 L2386.6,1552.1 L2386.9,1441.1 L2387.2,1573.3 L2387.5,1505.6 L2387.9,1516.2 L2388.2,1522.8 L2388.5,1578.7 L2388.8,1579.4 L2389.1,1495.4 L2389.4,1471.1 L2389.7,1587.4 L2390.0,1500.2 L2390.3,1566.6 L2390.6,1526.7 L2390.9,1417.1" fill="none" stroke="#e60d12" stroke-width="2.5" stroke-linejoin="round"/>
<path d="M283.0,62.5 L288.0,66.3 L293.0,67.8 L298.0,71.6 L303.0,74.9 L308.0,77.3 L313.0,79.8 L318.0,84.4 L323.0,87.2 L328.0,88.3 L333.0,94.7 L338.0,96.4 L343.0,97.8 L348.0,102.0 L353.0,103.7 L358.0,106.8 L363.0,110.4 L368.0,111.7 L373.0,116.0 L378.0,119.6 L383.0,122.4 L388.0,124.0 L393.0,127.9 L398.0,129.0 L403.0,133.2 L408.0,136.8 L413.0,138.5 L418.0,142.6 L423.0,147.1 L428.0,150.8 L433.0,152.3 L438.0,155.4 L443.0,157.0 L448.0,159.5 L453.0,161.9 L458.0,166.0 L463.0,168.7 L468.0,170.1 L473.0,172.2 L478.0,176.0 L483.0,178.6 L488.0,180.8 L493.0,184.4 L498.0,185.9 L503.0,188.5 L508.0,190.2 L513.0,193.7 L518.0,197.2 L523.0,198.8 L528.0,201.3 L533.0,204.1 L538.0,206.6 L543.0,209.3 L548.0,211.8 L553.0,214.4 L558.0,215.9 L563.0,219.3 L568.0,220.3 L573.0,224.3 L578.0,225.6 L583.0,229.1 L588.0,232.1 L593.0,233.9 L598.0,236.9 L603.0,238.0 L608.0,241.2 L613.0,244.9 L618.0,246.0 L623.0,249.9 L628.0,250.8 L633.0,253.7 L638.0,256.1 L643.0,259.5 L648.0,262.4 L653.0,263.7 L658.0,266.9 L663.0,270.9 L668.0,271.8 L673.0,274.0 L678.0,277.4 L683.0,279.5 L688.0,281.6 L693.0,283.3 L698.0,287.9 L703.0,289.3 L708.0,292.3 L713.0,293.9 L718.0,298.3 L723.0,300.4 L728.0,303.1 L733.0,304.8 L738.0,307.7 L743.0,310.6 L748.0,313.2 L753.0,315.2 L758.0,317.4 L763.0,319.7 L768.0,321.9 L773.0,324.2 L778.0,327.8 L783.0,329.9 L788.0,331.0 L793.0,335.0 L798.0,338.5 L803.0,339.9 L808.0,341.2 L813.0,345.1 L818.0,348.3 L823.0,350.4 L828.0,352.4 L833.0,356.8 L838.0,359.3 L843.0,360.3 L848.0,363.5 L853.0,365.7 L858.0,368.6 L863.0,371.6 L868.0,373.6 L873.0,375.6 L878.0,377.5 L883.0,379.9 L888.0,383.1 L893.0,386.5 L898.0,388.4 L903.0,390.7 L908.0,393.4 L913.0,395.8 L918.0,398.7 L923.0,399.9 L928.0,401.7 L933.0,405.5 L938.0,407.4 L943.0,412.2 L948.0,413.3 L953.0,415.7 L958.0,417.2 L963.0,421.2 L968.0,423.0 L973.0,427.0 L978.0,429.3 L983.0,430.5 L988.0,434.0 L993.0,434.0 L998.0,438.2 L1003.0,442.2 L1008.0,444.3 L1013.0,446.3 L1018.0,448.6 L1023.0,449.9 L1028.0,452.5 L1033.0,456.2 L1038.0,459.9 L1043.0,459.2 L1048.0,464.0 L1053.0,466.4 L1058.0,469.2 L1063.0,470.2 L1068.0,472.9 L1073.0,475.9 L1078.0,477.5 L1083.0,479.8 L1088.0,482.5 L1093.0,485.7 L1098.0,488.5 L1103.0,490.6 L1108.0,493.2 L1113.0,495.1 L1118.0,497.5 L1123.0,501.5 L1128.0,503.0 L1133.0,505.4 L1138.0,508.7 L1143.0,511.5 L1148.0,514.0 L1153.0,515.8 L1158.0,517.9 L1163.0,520.6 L1168.0,523.0 L1173.0,526.5 L1178.0,528.1 L1183.0,530.8 L1188.0,532.8 L1193.0,536.4 L1198.0,536.1 L1203.0,540.5 L1208.0,543.3 L1213.0,544.2 L1218.0,549.4 L1223.0,550.0 L1228.0,552.5 L1233.0,554.2 L1238.0,558.3 L1243.0,560.2 L1248.0,562.1 L1253.0,565.2 L1258.0,568.0 L1263.0,570.9 L1268.0,572.6 L1273.0,574.2 L1278.0,577.0 L1283.0,578.0 L1288.0,581.8 L1293.0,585.4 L1298.0,587.7 L1303.0,589.7 L1308.0,592.0 L1313.0,596.0 L1318.0,597.5 L1323.0,600.4 L1328.0,602.5 L1333.0,604.1 L1338.0,608.4 L1343.0,608.6 L1348.0,611.1 L1353.0,614.2 L1358.0,616.5 L1363.0,619.1 L1368.0,621.5 L1373.0,625.3 L1378.0,627.0 L1383.0,629.7 L1388.0,630.7 L1393.0,633.7 L1398.0,637.8 L1403.0,638.4 L1408.0,642.8 L1413.0,643.5 L1418.0,647.1 L1423.0,648.6 L1428.0,652.0 L1433.0,653.6 L1438.0,656.6 L1443.0,660.6 L1448.0,661.4 L1453.0,665.9 L1458.0,666.3 L1463.0,668.3 L1468.0,671.7 L1473.0,673.8 L1478.0,678.1 L1483.0,679.8 L1488.0,682.6 L1493.0,684.6 L1498.0,688.6 L1503.0,689.7 L1508.0,692.0 L1513.0,693.3 L1518.0,695.8 L1523.0,699.2 L1528.0,702.4 L1533.0,705.0 L1538.0,705.6 L1543.0,709.4 L1548.0,711.6 L1553.0,712.9 L1558.0,716.9 L1563.0,716.7 L1568.0,721.6 L1573.0,726.3 L1578.0,725.3 L1583.0,728.8 L1588.0,729.3 L1593.0,733.0 L1598.0,737.1 L1603.0,737.6 L1608.0,741.2 L1613.0,743.4 L1618.0,745.8 L1623.0,748.9 L1628.0,751.8 L1633.0,755.1 L1638.0,757.2 L1643.0,758.0 L1648.0,762.9 L1653.0,765.2 L1658.0,764.2 L1663.0,769.5 L1668.0,772.2 L1673.0,774.9 L1678.0,776.8 L1683.0,776.9 L1688.0,780.7 L1693.0,780.8 L1698.0,785.9 L1703.0,791.3 L1708.0,792.0 L1713.0,794.7 L1718.0,795.3 L1723.0,797.1 L1728.0,799.5 L1733.0,803.7 L1738.0,804.8 L1743.0,807.5 L1748.0,812.7 L1753.0,811.0 L1758.0,814.0 L1763.0,817.7 L1768.0,820.8 L1773.0,823.2 L1778.0,823.7 L1783.0,828.7 L1788.0,830.7 L1793.0,833.9 L1798.0,834.1 L1803.0,838.8 L1808.0,841.3 L1813.0,842.3 L1818.0,845.6 L1823.0,847.5 L1828.0,853.3 L1833.0,848.2 L1838.0,853.6 L1843.0,855.6 L1848.0,860.4 L1853.0,862.4 L1858.0,865.4 L1863.0,870.0 L1868.0,868.2 L1873.0,872.2 L1878.0,875.8 L1883.0,876.5 L1888.0,882.0 L1893.0,884.4 L1898.0,885.0 L1903.0,885.5 L1908.0,894.4 L1913.0,894.8 L1918.0,897.2 L1923.0,899.1 L1928.0,901.5 L1933.0,905.6 L1938.0,906.5 L1943.0,907.8 L1948.0,913.0 L1953.0,914.2 L1958.0,915.0 L1963.0,917.3 L1968.0,924.1 L1973.0,925.5 L1978.0,930.9 L1983.0,928.1 L1988.0,930.2 L1993.0,935.1 L1998.0,939.8 L2003.0,940.6 L2008.0,942.8 L2013.0,948.5 L2018.0,945.3 L2023.0,946.6 L2028.0,950.3 L2033.0,953.8 L2038.0,957.8 L2043.0,961.8 L2048.0,963.0 L2050.0,966.1 L2052.6,967.1 L2055.2,976.2 L2057.8,976.6 L2060.4,982.1 L2063.0,976.5 L2065.6,976.4 L2068.2,973.7 L2070.8,972.7 L2073.4,976.0 L2076.0,977.5 L2078.6,980.7 L2081.2,984.2 L2083.8,983.0 L2086.4,984.8 L2089.0,984.3 L2091.6,987.9 L2094.2,993.5 L2096.8,993.4 L2099.4,993.1 L2102.0,995.7 L2104.6,1000.1 L2107.2,999.4 L2109.8,999.2 L2112.4,1001.7 L2115.0,1003.3 L2117.6,1005.4 L2120.2,1010.2 L2122.8,1011.2 L2125.4,1010.8 L2128.0,1014.4 L2130.6,1014.3 L2133.2,1014.4 L2135.8,1014.2 L2138.4,1019.7 L2141.0,1017.6 L2143.6,1021.7 L2146.2,1024.9 L2148.8,1025.0 L2151.4,1027.1 L2154.0,1027.8 L2156.6,1027.9 L2159.2,1031.7 L2161.8,1029.5 L2164.4,1029.7 L2167.0,1032.1 L2169.6,1035.0 L2172.2,1034.8 L2174.8,1033.5 L2177.4,1033.7 L2180.0,1033.8 L2182.6,1034.5 L2185.2,1036.4 L2187.8,1037.4 L2190.4,1032.7 L2193.0,1037.1 L2195.6,1038.3 L2198.2,1044.1 L2200.8,1047.8 L2203.4,1049.2 L2206.0,1054.0 L2208.6,1057.4 L2211.2,1063.7 L2213.8,1056.8 L2216.4,1053.3 L2219.0,1049.7 L2221.6,1049.9 L2224.2,1053.1 L2226.8,1050.6 L2229.4,1049.9 L2232.0,1053.3 L2234.6,1053.1 L2237.2,1056.7 L2239.8,1056.6 L2242.4,1060.1 L2245.0,1063.1 L2247.6,1066.8 L2250.2,1069.1 L2252.8,1074.4 L2255.4,1075.8 L2258.0,1073.6 L2260.6,1078.5 L2263.2,1077.1 L2265.8,1077.0 L2268.4,1081.0 L2271.0,1077.5 L2273.6,1083.1 L2276.2,1086.6 L2278.8,1094.6 L2281.4,1092.5 L2284.0,1093.0 L2286.6,1089.9 L2289.2,1094.0 L2291.8,1089.5 L2294.4,1092.2 L2297.0,1092.9 L2299.6,1104.0 L2302.2,1115.9 L2304.8,1113.7 L2307.4,1113.6 L2310.0,1110.6 L2312.6,1108.5 L2315.2,1107.0 L2317.8,1106.5 L2320.4,1107.3 L2323.0,1110.7 L2325.6,1115.6 L2328.2,1113.5 L2330.8,1120.7 L2333.4,1124.7 L2336.0,1133.6 L2338.6,1132.6 L2341.2,1130.3 L2343.8,1126.4 L2346.4,1122.4 L2349.0,1125.3 L2351.6,1126.1 L2354.2,1124.0 L2356.8,1130.7 L2359.4,1126.0 L2362.0,1125.7 L2364.6,1127.0 L2367.2,1130.8 L2369.8,1133.2 L2372.4,1130.8 L2375.0,1137.0 L2377.6,1137.8 L2380.2,1142.5 L2382.8,1145.4 L2385.4,1152.3 L2388.0,1157.5 L2390.2,1161.5" fill="none" stroke="url(#bg)" stroke-width="5.2" stroke-linejoin="round"/>
<path d="M249.9,63.2L303.1,89.7M319.9,98.1L371.3,123.6M387.5,131.7L436.2,156.0M451.6,163.6L497.8,186.6M512.4,193.9L556.2,215.7M570.0,222.6L611.8,243.4M624.9,249.9L664.7,269.7M677.3,276.0L715.2,294.9M727.1,300.8L763.3,318.8M774.7,324.5L810.5,342.3M821.8,348.0L857.1,365.6M868.3,371.1L903.2,388.5M914.3,394.0L948.8,411.2M959.7,416.7L993.9,433.7M1004.7,439.0L1038.4,455.8M1049.1,461.1L1082.7,477.9M1093.4,483.2L1127.0,499.9M1137.6,505.2L1171.2,522.0M1181.8,527.3L1215.4,544.0M1226.0,549.3L1259.6,566.0M1270.2,571.3L1303.7,588.0M1314.3,593.2L1347.8,609.9M1358.4,615.2L1391.9,631.9M1402.5,637.1L1436.0,653.8M1446.5,659.0L1480.0,675.7M1490.5,681.0L1523.9,697.6M1534.5,702.9L1567.9,719.5M1578.4,724.7L1611.8,741.3M1622.3,746.6L1655.7,763.2M1666.2,768.4L1699.5,785.0M1710.1,790.3L1743.4,806.9M1753.9,812.1L1787.1,828.7M1797.6,833.9L1830.9,850.5M1841.4,855.7L1874.6,872.2M1885.1,877.4L1918.3,894.0M1928.8,899.2L1962.0,915.7M1972.5,920.9L2005.6,937.5M2016.1,942.7L2049.2,959.2M2059.7,964.4L2092.8,980.9M2103.2,986.1L2136.3,1002.5M2146.8,1007.7L2179.8,1024.2M2190.3,1029.4L2223.3,1045.9M2233.7,1051.0L2266.8,1067.5M2277.2,1072.7L2310.2,1089.1M2320.6,1094.3L2353.6,1110.7M2364.0,1115.9L2391.5,1129.6" stroke="#000" stroke-width="3.1" fill="none"/>
<clipPath id="cl"><rect x="0" y="0" width="1600" height="1834"/></clipPath><clipPath id="cr"><rect x="1600" y="0" width="900" height="1834"/></clipPath><path d="M249.6,63.5L299.0,96.9M314.6,107.4L362.5,139.8M377.6,150.1L423.2,180.9M437.6,190.7L481.0,220.1M494.7,229.3L536.1,257.3M549.1,266.1L588.5,292.8M601.0,301.2L638.7,326.8M650.6,334.8L687.4,359.8M699.1,367.6L734.2,391.4M745.4,399.0L778.9,421.7M789.5,428.8L822.7,451.3M833.1,458.4L865.9,480.6M876.3,487.6L908.7,509.5M919.0,516.5L951.0,538.2M961.2,545.0L992.9,566.5M1002.9,573.3L1034.4,594.6M1044.3,601.3L1075.4,622.4M1085.3,629.0L1116.4,650.1M1126.2,656.7L1157.3,677.8M1167.1,684.4L1198.2,705.5M1208.1,712.1L1239.1,733.1M1248.9,739.8L1280.0,760.8M1289.8,767.4L1320.8,788.4M1330.6,795.1L1361.6,816.0M1371.4,822.7L1402.4,843.6M1412.2,850.3L1443.1,871.2M1452.9,877.8L1483.9,898.8M1493.6,905.4L1524.6,926.3M1534.3,932.9L1565.2,953.9M1575.0,960.5L1605.9,981.4M1615.6,988.0L1646.5,1008.9M1656.2,1015.4L1687.1,1036.3M1696.8,1042.9L1727.6,1063.8M1737.4,1070.4L1768.2,1091.2M1777.9,1097.8L1808.7,1118.6M1818.4,1125.2L1849.1,1146.0M1858.9,1152.6L1889.6,1173.4M1899.3,1180.0L1930.0,1200.8M1939.7,1207.3L1970.4,1228.1M1980.1,1234.7L2010.8,1255.4M2020.5,1262.0L2051.1,1282.7M2060.8,1289.3L2091.5,1310.0M2101.1,1316.6L2131.8,1337.3M2141.4,1343.8L2172.0,1364.6M2181.7,1371.1L2212.3,1391.8M2221.9,1398.3L2252.5,1419.0M2262.1,1425.5L2292.7,1446.2M2302.3,1452.7L2332.8,1473.4M2342.5,1479.9L2373.0,1500.6M2382.6,1507.1L2391.5,1513.1" stroke="#000" stroke-width="3.1" fill="none" clip-path="url(#cl)"/><path d="M249.6,63.5L299.0,96.9M314.6,107.4L362.5,139.8M377.6,150.1L423.2,180.9M437.6,190.7L481.0,220.1M494.7,229.3L536.1,257.3M549.1,266.1L588.5,292.8M601.0,301.2L638.7,326.8M650.6,334.8L687.4,359.8M699.1,367.6L734.2,391.4M745.4,399.0L778.9,421.7M789.5,428.8L822.7,451.3M833.1,458.4L865.9,480.6M876.3,487.6L908.7,509.5M919.0,516.5L951.0,538.2M961.2,545.0L992.9,566.5M1002.9,573.3L1034.4,594.6M1044.3,601.3L1075.4,622.4M1085.3,629.0L1116.4,650.1M1126.2,656.7L1157.3,677.8M1167.1,684.4L1198.2,705.5M1208.1,712.1L1239.1,733.1M1248.9,739.8L1280.0,760.8M1289.8,767.4L1320.8,788.4M1330.6,795.1L1361.6,816.0M1371.4,822.7L1402.4,843.6M1412.2,850.3L1443.1,871.2M1452.9,877.8L1483.9,898.8M1493.6,905.4L1524.6,926.3M1534.3,932.9L1565.2,953.9M1575.0,960.5L1605.9,981.4M1615.6,988.0L1646.5,1008.9M1656.2,1015.4L1687.1,1036.3M1696.8,1042.9L1727.6,1063.8M1737.4,1070.4L1768.2,1091.2M1777.9,1097.8L1808.7,1118.6M1818.4,1125.2L1849.1,1146.0M1858.9,1152.6L1889.6,1173.4M1899.3,1180.0L1930.0,1200.8M1939.7,1207.3L1970.4,1228.1M1980.1,1234.7L2010.8,1255.4M2020.5,1262.0L2051.1,1282.7M2060.8,1289.3L2091.5,1310.0M2101.1,1316.6L2131.8,1337.3M2141.4,1343.8L2172.0,1364.6M2181.7,1371.1L2212.3,1391.8M2221.9,1398.3L2252.5,1419.0M2262.1,1425.5L2292.7,1446.2M2302.3,1452.7L2332.8,1473.4M2342.5,1479.9L2373.0,1500.6M2382.6,1507.1L2391.5,1513.1" stroke="#1a0000" stroke-opacity="0.75" stroke-width="3.1" fill="none" clip-path="url(#cr)"/>
</g>
<rect x="387.4" y="67.5" width="6" height="6" fill="#000"/><rect x="387.4" y="85.4" width="6" height="6" fill="#000"/><rect x="387.4" y="103.4" width="6" height="6" fill="#000"/><rect x="387.4" y="121.3" width="6" height="6" fill="#000"/><rect x="387.4" y="139.2" width="6" height="6" fill="#000"/><rect x="387.4" y="157.2" width="6" height="6" fill="#000"/><rect x="387.4" y="175.1" width="6" height="6" fill="#000"/><rect x="387.4" y="193.0" width="6" height="6" fill="#000"/><rect x="387.4" y="210.9" width="6" height="6" fill="#000"/><rect x="387.4" y="228.9" width="6" height="6" fill="#000"/><rect x="387.4" y="246.8" width="6" height="6" fill="#000"/><rect x="387.4" y="264.7" width="6" height="6" fill="#000"/><rect x="387.4" y="282.7" width="6" height="6" fill="#000"/><rect x="387.4" y="300.6" width="6" height="6" fill="#000"/><rect x="387.4" y="318.5" width="6" height="6" fill="#000"/><rect x="387.4" y="336.4" width="6" height="6" fill="#000"/><rect x="387.4" y="354.4" width="6" height="6" fill="#000"/><rect x="387.4" y="372.3" width="6" height="6" fill="#000"/>
<line x1="247.5" y1="61.0" x2="247.5" y2="1624" stroke="#000" stroke-width="4.5"/><line x1="2391.5" y1="61.0" x2="2391.5" y2="1624" stroke="#000" stroke-width="4.5"/><line x1="232" y1="1600.7" x2="2393.5" y2="1600.7" stroke="#000" stroke-width="4.5"/><line x1="223" y1="62.0" x2="2393.5" y2="62.0" stroke="#000" stroke-width="2.6"/><line x1="319.0" y1="1600.7" x2="319.0" y2="1614.5" stroke="#000" stroke-width="3.4"/><line x1="319.0" y1="62.0" x2="319.0" y2="77.5" stroke="#000" stroke-width="3.4"/><line x1="390.4" y1="1600.7" x2="390.4" y2="1614.5" stroke="#000" stroke-width="3.4"/><line x1="390.4" y1="62.0" x2="390.4" y2="77.5" stroke="#000" stroke-width="3.4"/><line x1="461.9" y1="1600.7" x2="461.9" y2="1614.5" stroke="#000" stroke-width="3.4"/><line x1="461.9" y1="62.0" x2="461.9" y2="77.5" stroke="#000" stroke-width="3.4"/><line x1="533.4" y1="1600.7" x2="533.4" y2="1614.5" stroke="#000" stroke-width="3.4"/><line x1="533.4" y1="62.0" x2="533.4" y2="77.5" stroke="#000" stroke-width="3.4"/><line x1="604.8" y1="1600.7" x2="604.8" y2="1624" stroke="#000" stroke-width="3.4"/><line x1="604.8" y1="62.0" x2="604.8" y2="86" stroke="#000" stroke-width="3.4"/><line x1="676.3" y1="1600.7" x2="676.3" y2="1614.5" stroke="#000" stroke-width="3.4"/><line x1="676.3" y1="62.0" x2="676.3" y2="77.5" stroke="#000" stroke-width="3.4"/><line x1="747.8" y1="1600.7" x2="747.8" y2="1614.5" stroke="#000" stroke-width="3.4"/><line x1="747.8" y1="62.0" x2="747.8" y2="77.5" stroke="#000" stroke-width="3.4"/><line x1="819.2" y1="1600.7" x2="819.2" y2="1614.5" stroke="#000" stroke-width="3.4"/><line x1="819.2" y1="62.0" x2="819.2" y2="77.5" stroke="#000" stroke-width="3.4"/><line x1="890.7" y1="1600.7" x2="890.7" y2="1614.5" stroke="#000" stroke-width="3.4"/><line x1="890.7" y1="62.0" x2="890.7" y2="77.5" stroke="#000" stroke-width="3.4"/><line x1="962.2" y1="1600.7" x2="962.2" y2="1624" stroke="#000" stroke-width="3.4"/><line x1="962.2" y1="62.0" x2="962.2" y2="86" stroke="#000" stroke-width="3.4"/><line x1="1033.6" y1="1600.7" x2="1033.6" y2="1614.5" stroke="#000" stroke-width="3.4"/><line x1="1033.6" y1="62.0" x2="1033.6" y2="77.5" stroke="#000" stroke-width="3.4"/><line x1="1105.1" y1="1600.7" x2="1105.1" y2="1614.5" stroke="#000" stroke-width="3.4"/><line x1="1105.1" y1="62.0" x2="1105.1" y2="77.5" stroke="#000" stroke-width="3.4"/><line x1="1176.6" y1="1600.7" x2="1176.6" y2="1614.5" stroke="#000" stroke-width="3.4"/><line x1="1176.6" y1="62.0" x2="1176.6" y2="77.5" stroke="#000" stroke-width="3.4"/><line x1="1248.0" y1="1600.7" x2="1248.0" y2="1614.5" stroke="#000" stroke-width="3.4"/><line x1="1248.0" y1="62.0" x2="1248.0" y2="77.5" stroke="#000" stroke-width="3.4"/><line x1="1319.5" y1="1600.7" x2="1319.5" y2="1624" stroke="#000" stroke-width="3.4"/><line x1="1319.5" y1="62.0" x2="1319.5" y2="86" stroke="#000" stroke-width="3.4"/><line x1="1391.0" y1="1600.7" x2="1391.0" y2="1614.5" stroke="#000" stroke-width="3.4"/><line x1="1391.0" y1="62.0" x2="1391.0" y2="77.5" stroke="#000" stroke-width="3.4"/><line x1="1462.4" y1="1600.7" x2="1462.4" y2="1614.5" stroke="#000" stroke-width="3.4"/><line x1="1462.4" y1="62.0" x2="1462.4" y2="77.5" stroke="#000" stroke-width="3.4"/><line x1="1533.9" y1="1600.7" x2="1533.9" y2="1614.5" stroke="#000" stroke-width="3.4"/><line x1="1533.9" y1="62.0" x2="1533.9" y2="77.5" stroke="#000" stroke-width="3.4"/><line x1="1605.4" y1="1600.7" x2="1605.4" y2="1614.5" stroke="#000" stroke-width="3.4"/><line x1="1605.4" y1="62.0" x2="1605.4" y2="77.5" stroke="#000" stroke-width="3.4"/><line x1="1676.8" y1="1600.7" x2="1676.8" y2="1624" stroke="#000" stroke-width="3.4"/><line x1="1676.8" y1="62.0" x2="1676.8" y2="86" stroke="#000" stroke-width="3.4"/><line x1="1748.3" y1="1600.7" x2="1748.3" y2="1614.5" stroke="#000" stroke-width="3.4"/><line x1="1748.3" y1="62.0" x2="1748.3" y2="77.5" stroke="#000" stroke-width="3.4"/><line x1="1819.8" y1="1600.7" x2="1819.8" y2="1614.5" stroke="#000" stroke-width="3.4"/><line x1="1819.8" y1="62.0" x2="1819.8" y2="77.5" stroke="#000" stroke-width="3.4"/><line x1="1891.2" y1="1600.7" x2="1891.2" y2="1614.5" stroke="#000" stroke-width="3.4"/><line x1="1891.2" y1="62.0" x2="1891.2" y2="77.5" stroke="#000" stroke-width="3.4"/><line x1="1962.7" y1="1600.7" x2="1962.7" y2="1614.5" stroke="#000" stroke-width="3.4"/><line x1="1962.7" y1="62.0" x2="1962.7" y2="77.5" stroke="#000" stroke-width="3.4"/><line x1="2034.2" y1="1600.7" x2="2034.2" y2="1624" stroke="#000" stroke-width="3.4"/><line x1="2034.2" y1="62.0" x2="2034.2" y2="86" stroke="#000" stroke-width="3.4"/><line x1="2105.6" y1="1600.7" x2="2105.6" y2="1614.5" stroke="#000" stroke-width="3.4"/><line x1="2105.6" y1="62.0" x2="2105.6" y2="77.5" stroke="#000" stroke-width="3.4"/><line x1="2177.1" y1="1600.7" x2="2177.1" y2="1614.5" stroke="#000" stroke-width="3.4"/><line x1="2177.1" y1="62.0" x2="2177.1" y2="77.5" stroke="#000" stroke-width="3.4"/><line x1="2248.6" y1="1600.7" x2="2248.6" y2="1614.5" stroke="#000" stroke-width="3.4"/><line x1="2248.6" y1="62.0" x2="2248.6" y2="77.5" stroke="#000" stroke-width="3.4"/><line x1="2320.0" y1="1600.7" x2="2320.0" y2="1614.5" stroke="#000" stroke-width="3.4"/><line x1="2320.0" y1="62.0" x2="2320.0" y2="77.5" stroke="#000" stroke-width="3.4"/><line x1="232" y1="106.0" x2="247.5" y2="106.0" stroke="#000" stroke-width="3.4"/><line x1="232" y1="149.9" x2="247.5" y2="149.9" stroke="#000" stroke-width="3.4"/><line x1="232" y1="193.9" x2="247.5" y2="193.9" stroke="#000" stroke-width="3.4"/><line x1="232" y1="237.9" x2="247.5" y2="237.9" stroke="#000" stroke-width="3.4"/><line x1="232" y1="281.8" x2="247.5" y2="281.8" stroke="#000" stroke-width="3.4"/><line x1="232" y1="325.8" x2="247.5" y2="325.8" stroke="#000" stroke-width="3.4"/><line x1="232" y1="369.7" x2="247.5" y2="369.7" stroke="#000" stroke-width="3.4"/><line x1="232" y1="413.7" x2="247.5" y2="413.7" stroke="#000" stroke-width="3.4"/><line x1="232" y1="457.7" x2="247.5" y2="457.7" stroke="#000" stroke-width="3.4"/><line x1="223" y1="501.6" x2="247.5" y2="501.6" stroke="#000" stroke-width="3.4"/><line x1="232" y1="545.6" x2="247.5" y2="545.6" stroke="#000" stroke-width="3.4"/><line x1="232" y1="589.6" x2="247.5" y2="589.6" stroke="#000" stroke-width="3.4"/><line x1="232" y1="633.5" x2="247.5" y2="633.5" stroke="#000" stroke-width="3.4"/><line x1="232" y1="677.5" x2="247.5" y2="677.5" stroke="#000" stroke-width="3.4"/><line x1="232" y1="721.4" x2="247.5" y2="721.4" stroke="#000" stroke-width="3.4"/><line x1="232" y1="765.4" x2="247.5" y2="765.4" stroke="#000" stroke-width="3.4"/><line x1="232" y1="809.4" x2="247.5" y2="809.4" stroke="#000" stroke-width="3.4"/><line x1="232" y1="853.3" x2="247.5" y2="853.3" stroke="#000" stroke-width="3.4"/><line x1="232" y1="897.3" x2="247.5" y2="897.3" stroke="#000" stroke-width="3.4"/><line x1="223" y1="941.3" x2="247.5" y2="941.3" stroke="#000" stroke-width="3.4"/><line x1="232" y1="985.2" x2="247.5" y2="985.2" stroke="#000" stroke-width="3.4"/><line x1="232" y1="1029.2" x2="247.5" y2="1029.2" stroke="#000" stroke-width="3.4"/><line x1="232" y1="1073.1" x2="247.5" y2="1073.1" stroke="#000" stroke-width="3.4"/><line x1="232" y1="1117.1" x2="247.5" y2="1117.1" stroke="#000" stroke-width="3.4"/><line x1="232" y1="1161.1" x2="247.5" y2="1161.1" stroke="#000" stroke-width="3.4"/><line x1="232" y1="1205.0" x2="247.5" y2="1205.0" stroke="#000" stroke-width="3.4"/><line x1="232" y1="1249.0" x2="247.5" y2="1249.0" stroke="#000" stroke-width="3.4"/><line x1="232" y1="1293.0" x2="247.5" y2="1293.0" stroke="#000" stroke-width="3.4"/><line x1="232" y1="1336.9" x2="247.5" y2="1336.9" stroke="#000" stroke-width="3.4"/><line x1="223" y1="1380.9" x2="247.5" y2="1380.9" stroke="#000" stroke-width="3.4"/><line x1="232" y1="1424.8" x2="247.5" y2="1424.8" stroke="#000" stroke-width="3.4"/><line x1="232" y1="1468.8" x2="247.5" y2="1468.8" stroke="#000" stroke-width="3.4"/><line x1="232" y1="1512.8" x2="247.5" y2="1512.8" stroke="#000" stroke-width="3.4"/><line x1="232" y1="1556.7" x2="247.5" y2="1556.7" stroke="#000" stroke-width="3.4"/>
<text x="247.5" y="1706" text-anchor="middle" font-family="'Liberation Sans', Arial, sans-serif" font-size="61" fill="#000">0</text><text x="962.2" y="1706" text-anchor="middle" font-family="'Liberation Sans', Arial, sans-serif" font-size="61" fill="#000">20</text><text x="1319.5" y="1706" text-anchor="middle" font-family="'Liberation Sans', Arial, sans-serif" font-size="61" fill="#000">30</text><text x="1676.8" y="1706" text-anchor="middle" font-family="'Liberation Sans', Arial, sans-serif" font-size="61" fill="#000">40</text><text x="2034.2" y="1706" text-anchor="middle" font-family="'Liberation Sans', Arial, sans-serif" font-size="61" fill="#000">50</text><text x="2391.5" y="1706" text-anchor="middle" font-family="'Liberation Sans', Arial, sans-serif" font-size="61" fill="#000">60</text><text x="194" y="81.6" text-anchor="end" font-family="'Liberation Sans', Arial, sans-serif" font-size="61" fill="#000">0</text><text x="194" y="960.9" text-anchor="end" font-family="'Liberation Sans', Arial, sans-serif" font-size="61" fill="#000">-2</text><text x="194" y="1400.5" text-anchor="end" font-family="'Liberation Sans', Arial, sans-serif" font-size="61" fill="#000">-3</text><text transform="translate(84,828.5) rotate(-90)" text-anchor="middle" font-family="'Liberation Sans', Arial, sans-serif" font-size="74" fill="#000">Ln(N(t))</text>
<text transform="translate(565.3,1705.6) scale(1.230,1)" font-family="NanumGothic, 'Liberation Sans', sans-serif" font-size="56.9" font-weight="normal" font-style="normal" fill="#000">1</text><text transform="translate(604.2,1705.9) scale(0.941,1)" font-family="'Liberation Sans', Arial, sans-serif" font-size="62.0" font-weight="normal" font-style="normal" fill="#000">0</text><text x="140.6" y="521.2" font-family="'Liberation Sans', Arial, sans-serif" font-size="61" font-weight="normal" font-style="normal" fill="#000">-</text><text transform="translate(157.4,522.7) scale(1.193,1)" font-family="NanumGothic, 'Liberation Sans', sans-serif" font-size="57.2" font-weight="normal" font-style="normal" fill="#000">1</text><text transform="translate(335.9,443.8) scale(0.937,1)" font-family="'Liberation Sans', Arial, sans-serif" font-size="72.3" font-weight="bold" font-style="normal" fill="#000">t</text><text transform="translate(356.6,463.3) scale(1.304,1)" font-family="NanumGothic, 'Liberation Sans', sans-serif" font-size="39.9" font-weight="bold" font-style="normal" fill="#000">1</text><text transform="translate(400.7,441.6) scale(1.041,1)" font-family="'Liberation Sans', Arial, sans-serif" font-size="63.4" font-weight="normal" font-style="normal" fill="#000">=</text><text transform="translate(452.0,444.0) scale(1.257,1)" font-family="NanumGothic, 'Liberation Sans', sans-serif" font-size="62.3" font-weight="normal" font-style="normal" fill="#000">1</text><text transform="translate(493.2,443.8) scale(0.953,1)" font-family="'Liberation Sans', Arial, sans-serif" font-size="67.4" font-weight="normal" font-style="normal" fill="#000">5</text><text transform="translate(546.0,444.5) scale(1.133,1)" font-family="'Liberation Sans', Arial, sans-serif" font-size="58.6" font-weight="normal" font-style="normal" fill="#000">µ</text><text transform="translate(587.2,443.8) scale(0.919,1)" font-family="'Liberation Sans', Arial, sans-serif" font-size="65.8" font-weight="normal" font-style="normal" fill="#000">s</text><text transform="translate(1147.8,414.4) scale(1.162,1)" font-family="'Liberation Sans', Arial, sans-serif" font-size="58.0" font-weight="normal" font-style="normal" fill="#1c1c96">τ</text><text x="1173.9" y="436.0" font-family="'Liberation Sans', Arial, sans-serif" font-size="44.1" font-weight="bold" font-style="normal" fill="#1c1c96">R</text><text transform="translate(1223.0,411.4) scale(1.049,1)" font-family="'Liberation Sans', Arial, sans-serif" font-size="62.2" font-weight="normal" font-style="normal" fill="#1c1c96">=</text><text transform="translate(1274.0,414.5) scale(1.284,1)" font-family="NanumGothic, 'Liberation Sans', sans-serif" font-size="60.9" font-weight="normal" font-style="normal" fill="#1c1c96">1</text><text transform="translate(1315.8,414.6) scale(0.977,1)" font-family="'Liberation Sans', Arial, sans-serif" font-size="66.6" font-weight="normal" font-style="normal" fill="#1c1c96">300</text><text transform="translate(1441.9,415.3) scale(0.924,1)" font-family="'Liberation Sans', Arial, sans-serif" font-size="57.7" font-weight="normal" font-style="normal" fill="#1c1c96">µ</text><text transform="translate(1479.6,414.4) scale(1.168,1)" font-family="'Liberation Sans', Arial, sans-serif" font-size="58.5" font-weight="normal" font-style="normal" fill="#1c1c96">s</text><text transform="translate(776.5,835.4) scale(1.171,1)" font-family="'Liberation Sans', Arial, sans-serif" font-size="56.9" font-weight="normal" font-style="normal" fill="#c0182a">τ</text><text transform="translate(803.1,856.0) scale(1.029,1)" font-family="'Liberation Sans', Arial, sans-serif" font-size="40.6" font-weight="bold" font-style="normal" fill="#c0182a">R</text><text transform="translate(851.7,834.0) scale(0.971,1)" font-family="'Liberation Sans', Arial, sans-serif" font-size="67.8" font-weight="normal" font-style="normal" fill="#c0182a">=</text><text transform="translate(903.6,834.8) scale(1.297,1)" font-family="NanumGothic, 'Liberation Sans', sans-serif" font-size="60.7" font-weight="normal" font-style="normal" fill="#c0182a">1</text><text x="943.2" y="834.7" font-family="'Liberation Sans', Arial, sans-serif" font-size="65.4" font-weight="normal" font-style="normal" fill="#c0182a">400</text><text transform="translate(1070.9,836.3) scale(0.896,1)" font-family="'Liberation Sans', Arial, sans-serif" font-size="59.1" font-weight="normal" font-style="normal" fill="#c0182a">µ</text><text transform="translate(1109.8,834.4) scale(1.100,1)" font-family="'Liberation Sans', Arial, sans-serif" font-size="57.3" font-weight="normal" font-style="normal" fill="#c0182a">s</text><text x="1729.5" y="721.5" font-family="'Liberation Serif', 'Times New Roman', serif" font-size="76.1" font-weight="normal" font-style="italic" fill="#1c1c96">γ</text><text x="1763.1" y="742.1" font-family="'Liberation Serif', 'Times New Roman', serif" font-size="47.0" font-weight="normal" font-style="normal" fill="#1c1c96">OH</text><text transform="translate(1856.7,719.2) scale(1.064,1)" font-family="'Liberation Sans', Arial, sans-serif" font-size="71.9" font-weight="normal" font-style="normal" fill="#1c1c96">=</text><text transform="translate(1923.1,721.5) scale(0.956,1)" font-family="'Liberation Sans', Arial, sans-serif" font-size="76.8" font-weight="normal" font-style="normal" fill="#1c1c96">0.04</text><text transform="translate(2060.6,721.5) scale(1.390,1)" font-family="NanumGothic, 'Liberation Sans', sans-serif" font-size="70.7" font-weight="normal" font-style="normal" fill="#1c1c96">1</text><text transform="translate(2130.5,722.2) scale(0.955,1)" font-family="'Liberation Sans', Arial, sans-serif" font-size="66.8" font-weight="normal" font-style="normal" fill="#1c1c96">µ</text><text transform="translate(2174.6,721.5) scale(0.932,1)" font-family="'Liberation Sans', Arial, sans-serif" font-size="73.1" font-weight="normal" font-style="normal" fill="#1c1c96">s</text><text x="2202.5" y="690.4" font-family="'Liberation Sans', Arial, sans-serif" font-size="46.5" font-weight="normal" font-style="normal" fill="#1c1c96">−</text><text transform="translate(2224.6,686.4) scale(1.271,1)" font-family="NanumGothic, 'Liberation Sans', sans-serif" font-size="47.2" font-weight="normal" font-style="normal" fill="#1c1c96">1</text><text transform="translate(2257.0,686.4) scale(0.961,1)" font-family="'Liberation Sans', Arial, sans-serif" font-size="50.5" font-weight="normal" font-style="normal" fill="#1c1c96">/2</text><text x="1138.8" y="1300.8" font-family="'Liberation Serif', 'Times New Roman', serif" font-size="77.0" font-weight="normal" font-style="italic" fill="#c0182a">γ</text><text transform="translate(1170.4,1325.0) scale(1.028,1)" font-family="'Liberation Serif', 'Times New Roman', serif" font-size="50.0" font-weight="normal" font-style="normal" fill="#c0182a">OH</text><text transform="translate(1265.2,1300.6) scale(1.046,1)" font-family="'Liberation Sans', Arial, sans-serif" font-size="73.1" font-weight="normal" font-style="normal" fill="#c0182a">=</text><text transform="translate(1331.2,1302.6) scale(0.970,1)" font-family="'Liberation Sans', Arial, sans-serif" font-size="76.6" font-weight="normal" font-style="normal" fill="#c0182a">0.055</text><text transform="translate(1539.8,1303.8) scale(0.944,1)" font-family="'Liberation Sans', Arial, sans-serif" font-size="67.3" font-weight="normal" font-style="normal" fill="#c0182a">µ</text><text transform="translate(1583.3,1301.8) scale(0.947,1)" font-family="'Liberation Sans', Arial, sans-serif" font-size="72.7" font-weight="normal" font-style="normal" fill="#c0182a">s</text><text x="1616.1" y="1267.4" font-family="'Liberation Sans', Arial, sans-serif" font-size="47.3" font-weight="normal" font-style="normal" fill="#c0182a">−</text><text transform="translate(1639.4,1264.2) scale(1.224,1)" font-family="NanumGothic, 'Liberation Sans', sans-serif" font-size="48.7" font-weight="normal" font-style="normal" fill="#c0182a">1</text><text transform="translate(1671.8,1264.2) scale(0.926,1)" font-family="'Liberation Sans', Arial, sans-serif" font-size="51.6" font-weight="normal" font-style="normal" fill="#c0182a">/2</text><text x="2075.5" y="1802.2" font-family="'Liberation Sans', Arial, sans-serif" font-size="76" font-weight="normal" font-style="normal" fill="#000">t</text><text transform="translate(2093.5,1767.0) scale(1.216,1)" font-family="NanumGothic, 'Liberation Sans', sans-serif" font-size="46.1" font-weight="normal" font-style="normal" fill="#000">1</text><text transform="translate(2123.0,1767.0) scale(0.986,1)" font-family="'Liberation Sans', Arial, sans-serif" font-size="48.6" font-weight="normal" font-style="normal" fill="#000">/2</text><text x="2160.2" y="1802.2" font-family="'Liberation Sans', Arial, sans-serif" font-size="76" font-weight="normal" font-style="normal" fill="#000">,</text><text x="2201.7" y="1802.2" font-family="'Liberation Sans', Arial, sans-serif" font-size="68" font-weight="normal" font-style="normal" fill="#000">µ</text><text x="2244.2" y="1802.2" font-family="'Liberation Sans', Arial, sans-serif" font-size="76" font-weight="normal" font-style="normal" fill="#000">s</text><text transform="translate(2276.7,1767.0) scale(1.291,1)" font-family="NanumGothic, 'Liberation Sans', sans-serif" font-size="46.1" font-weight="normal" font-style="normal" fill="#000">1</text><text x="2305.5" y="1767.0" font-family="'Liberation Sans', Arial, sans-serif" font-size="48.6" font-weight="normal" font-style="normal" fill="#000">/2</text>
</svg>
</body></html>
